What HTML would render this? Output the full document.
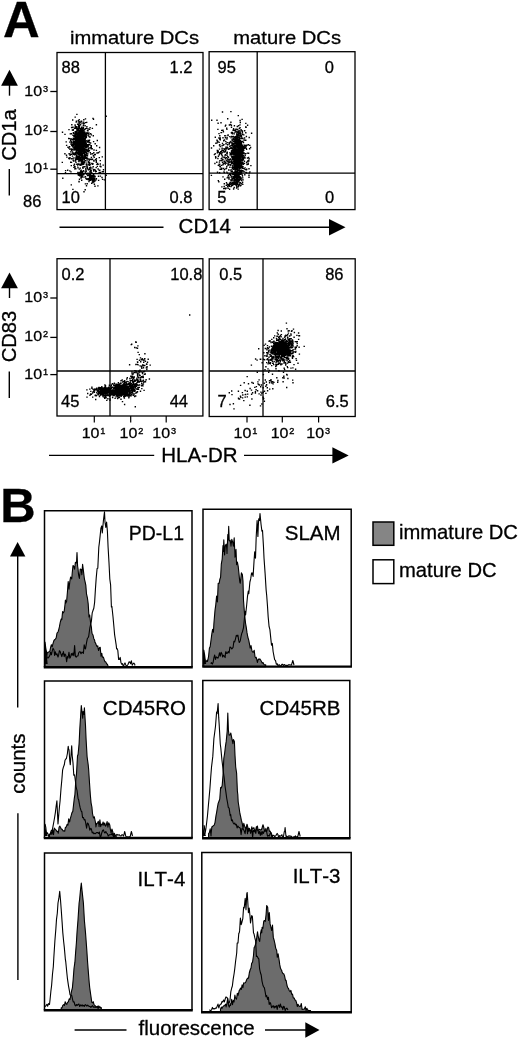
<!DOCTYPE html>
<html><head><meta charset="utf-8"><title>Figure</title>
<style>
html,body{margin:0;padding:0;background:#fff}
svg{display:block}
svg text{font-family:"Liberation Sans",sans-serif;fill:#000;stroke:#000;stroke-width:0.3px;font-kerning:none}
</style></head>
<body>
<svg width="520" height="1039" viewBox="0 0 520 1039">
<rect width="520" height="1039" fill="#fff"/>
<text x="3.0" y="37" font-size="50.8" text-anchor="start" font-weight="bold" >A</text>
<text transform="translate(70,44.3) scale(1.0,0.95)" font-size="20.2" text-anchor="start" >immature DCs</text>
<text transform="translate(233.3,44.3) scale(1.0,0.95)" font-size="20.2" text-anchor="start" >mature DCs</text>
<rect x="57" y="52.5" width="146.00" height="157.10" fill="none" stroke="#000" stroke-width="1.3"/>
<rect x="209.1" y="51.7" width="145.90" height="157.90" fill="none" stroke="#000" stroke-width="1.3"/>
<line x1="105.4" y1="52.5" x2="105.4" y2="209.6" stroke="#000" stroke-width="1.3"/>
<line x1="57" y1="173.6" x2="203.0" y2="173.6" stroke="#000" stroke-width="1.3"/>
<line x1="257.2" y1="51.7" x2="257.2" y2="209.6" stroke="#000" stroke-width="1.3"/>
<line x1="209.1" y1="173.2" x2="355" y2="173.2" stroke="#000" stroke-width="1.3"/>
<polygon points="9.5,69.8 1.1,85.8 17.9,85.8" fill="#000"/>
<line x1="9.5" y1="85" x2="9.5" y2="95.7" stroke="#000" stroke-width="1.4"/>
<text transform="translate(16.3,160.8) rotate(-90)" font-size="20.2">CD1a</text>
<line x1="9.3" y1="169" x2="9.3" y2="195.4" stroke="#000" stroke-width="1.4"/>
<text transform="translate(24.3,95.7) scale(1,0.95)" font-size="16">10<tspan font-size="9.2" dy="-4.11" dx="0.8" stroke-width="0.35">3</tspan></text>
<line x1="50.3" y1="91.5" x2="57" y2="91.5" stroke="#000" stroke-width="1.3"/>
<text transform="translate(24.3,134.6) scale(1,0.95)" font-size="16">10<tspan font-size="9.2" dy="-4.11" dx="0.8" stroke-width="0.35">2</tspan></text>
<line x1="50.3" y1="131.5" x2="57" y2="131.5" stroke="#000" stroke-width="1.3"/>
<text transform="translate(24.3,173) scale(1,0.95)" font-size="16">10<tspan font-size="9.2" dy="-4.11" dx="0.8" stroke-width="0.35">1</tspan></text>
<line x1="50.3" y1="169.2" x2="57" y2="169.2" stroke="#000" stroke-width="1.3"/>
<text transform="translate(23,206.7) scale(1.0,0.95)" font-size="16.5" text-anchor="start" >86</text>
<text transform="translate(61.5,73) scale(1.0,0.95)" font-size="16.5" text-anchor="start" >88</text>
<text transform="translate(192.5,73) scale(1.0,0.95)" font-size="16.5" text-anchor="end" >1.2</text>
<text transform="translate(61.5,202.7) scale(1.0,0.95)" font-size="16.5" text-anchor="start" >10</text>
<text transform="translate(192.5,202.7) scale(1.0,0.95)" font-size="16.5" text-anchor="end" >0.8</text>
<text transform="translate(217.5,73) scale(1.0,0.95)" font-size="16.5" text-anchor="start" >95</text>
<text transform="translate(334,73) scale(1.0,0.95)" font-size="16.5" text-anchor="end" >0</text>
<text transform="translate(217.3,202.7) scale(1.0,0.95)" font-size="16.5" text-anchor="start" >5</text>
<text transform="translate(334.3,202.7) scale(1.0,0.95)" font-size="16.5" text-anchor="end" >0</text>
<line x1="59.5" y1="227.2" x2="163.5" y2="227.2" stroke="#000" stroke-width="1.4"/>
<text x="178.6" y="232.7" font-size="20.5" text-anchor="start" >CD14</text>
<line x1="240" y1="227.2" x2="330" y2="227.2" stroke="#000" stroke-width="1.4"/>
<polygon points="345.5,227.3 329,219.1 329,235.5" fill="#000"/>
<path d="M80.9 137.4h1.4M82.5 142.8h1.4M80.9 121.2h1.4M75.5 126.9h1.4M82.8 151.2h1.4M81.3 146.3h1.4M78.0 143.4h1.4M81.7 134.6h1.4M81.0 147.8h1.4M80.8 157.8h1.4M79.9 132.2h1.4M81.6 143.1h1.4M77.4 138.2h1.4M79.3 145.5h1.4M78.2 142.3h1.4M81.8 141.8h1.4M79.9 135.1h1.4M78.8 142.2h1.4M77.2 136.7h1.4M79.0 141.1h1.4M79.8 142.0h1.4M78.9 147.8h1.4M84.1 138.7h1.4M83.1 140.7h1.4M70.9 149.3h1.4M73.6 139.1h1.4M79.2 140.2h1.4M78.4 149.5h1.4M80.5 145.0h1.4M80.5 143.5h1.4M86.8 146.2h1.4M76.1 131.1h1.4M78.6 146.1h1.4M86.5 155.5h1.4M81.9 148.0h1.4M82.0 130.0h1.4M78.1 144.6h1.4M74.4 133.5h1.4M80.4 140.8h1.4M80.2 143.8h1.4M75.7 131.5h1.4M77.5 153.3h1.4M79.6 142.0h1.4M76.7 148.5h1.4M79.5 147.9h1.4M80.1 154.1h1.4M79.9 152.8h1.4M78.1 129.8h1.4M81.8 143.5h1.4M82.7 125.4h1.4M80.9 139.2h1.4M77.1 148.0h1.4M82.2 151.1h1.4M78.1 153.2h1.4M82.7 140.3h1.4M76.3 144.5h1.4M82.8 144.3h1.4M79.7 153.4h1.4M75.7 155.1h1.4M78.8 139.4h1.4M80.0 174.8h1.4M80.7 142.9h1.4M76.6 138.8h1.4M76.1 146.9h1.4M80.5 149.3h1.4M78.3 147.0h1.4M80.6 137.5h1.4M82.3 155.9h1.4M74.4 141.8h1.4M80.6 156.0h1.4M83.8 155.6h1.4M78.8 131.8h1.4M77.1 133.8h1.4M82.3 135.0h1.4M80.6 145.1h1.4M82.8 144.0h1.4M78.7 144.8h1.4M74.9 134.7h1.4M79.4 146.3h1.4M78.3 154.3h1.4M82.4 132.2h1.4M80.4 141.4h1.4M74.4 143.6h1.4M75.9 140.7h1.4M82.7 141.9h1.4M82.0 158.4h1.4M77.7 153.2h1.4M79.8 150.0h1.4M81.3 136.8h1.4M81.3 162.2h1.4M82.7 146.7h1.4M80.6 138.2h1.4M79.5 139.9h1.4M78.9 138.5h1.4M83.3 161.7h1.4M72.4 142.7h1.4M79.3 143.3h1.4M79.9 124.7h1.4M75.1 147.9h1.4M80.9 134.2h1.4M77.7 132.8h1.4M82.6 148.8h1.4M79.4 135.5h1.4M82.0 150.5h1.4M83.8 153.4h1.4M81.1 128.1h1.4M76.9 141.0h1.4M74.8 128.3h1.4M85.6 143.9h1.4M79.4 150.5h1.4M77.5 130.8h1.4M80.3 158.3h1.4M79.2 140.1h1.4M82.6 133.6h1.4M79.9 141.9h1.4M79.8 149.6h1.4M77.4 130.6h1.4M81.3 143.3h1.4M76.4 130.4h1.4M82.0 153.6h1.4M84.8 145.5h1.4M74.8 138.0h1.4M71.7 149.5h1.4M81.8 132.5h1.4M88.2 141.7h1.4M76.5 157.6h1.4M75.7 140.7h1.4M81.7 154.8h1.4M77.0 143.8h1.4M78.1 136.5h1.4M78.7 140.5h1.4M81.6 143.9h1.4M78.5 139.0h1.4M80.7 136.1h1.4M79.2 136.1h1.4M77.0 129.6h1.4M78.7 143.5h1.4M76.7 145.3h1.4M79.8 149.2h1.4M76.1 126.6h1.4M76.2 148.7h1.4M84.6 143.9h1.4M79.6 130.7h1.4M79.6 143.6h1.4M81.5 150.1h1.4M78.4 146.9h1.4M79.0 148.8h1.4M81.2 151.2h1.4M80.7 150.6h1.4M76.0 141.5h1.4M82.6 125.9h1.4M77.9 135.9h1.4M76.3 144.9h1.4M76.8 138.1h1.4M78.5 148.3h1.4M85.2 151.0h1.4M75.9 142.2h1.4M80.3 158.9h1.4M72.7 132.8h1.4M79.8 150.7h1.4M82.8 139.6h1.4M79.0 136.0h1.4M77.7 147.3h1.4M80.6 137.8h1.4M82.1 150.7h1.4M82.0 133.5h1.4M86.3 144.8h1.4M80.5 135.9h1.4M77.8 140.3h1.4M79.4 139.6h1.4M79.6 133.2h1.4M80.2 148.5h1.4M79.7 132.3h1.4M80.4 134.7h1.4M74.3 149.0h1.4M82.5 151.8h1.4M77.9 148.0h1.4M75.9 144.7h1.4M81.9 162.7h1.4M84.1 133.7h1.4M81.4 137.0h1.4M80.3 134.6h1.4M76.7 149.7h1.4M89.3 147.7h1.4M82.7 153.0h1.4M76.0 150.1h1.4M77.2 140.3h1.4M80.1 136.0h1.4M74.7 133.1h1.4M80.4 161.7h1.4M78.3 150.7h1.4M83.8 148.9h1.4M83.0 140.8h1.4M70.9 138.9h1.4M79.9 140.0h1.4M74.5 138.8h1.4M83.5 123.5h1.4M80.4 142.5h1.4M81.6 140.1h1.4M76.3 144.4h1.4M85.8 146.2h1.4M86.5 151.8h1.4M76.3 141.9h1.4M81.0 149.9h1.4M77.6 120.6h1.4M79.7 133.5h1.4M75.6 156.4h1.4M86.0 134.2h1.4M76.6 139.7h1.4M78.8 148.6h1.4M81.5 135.8h1.4M77.7 148.4h1.4M79.0 130.6h1.4M77.9 126.2h1.4M79.4 131.5h1.4M75.9 127.9h1.4M78.4 142.4h1.4M79.1 140.0h1.4M78.7 145.4h1.4M80.0 134.2h1.4M78.8 164.1h1.4M82.3 142.7h1.4M78.7 142.2h1.4M79.3 146.6h1.4M77.6 140.3h1.4M78.1 137.1h1.4M75.6 142.5h1.4M81.5 151.1h1.4M76.0 147.5h1.4M77.3 150.2h1.4M81.0 138.4h1.4M81.1 136.7h1.4M78.5 159.5h1.4M73.1 139.2h1.4M81.2 147.3h1.4M80.7 149.4h1.4M75.1 153.7h1.4M82.3 132.1h1.4M77.5 138.2h1.4M76.1 138.3h1.4M80.1 140.4h1.4M79.2 122.3h1.4M80.5 142.3h1.4M74.5 117.1h1.4M85.8 147.0h1.4M77.8 146.9h1.4M74.7 146.7h1.4M81.8 133.2h1.4M78.6 150.7h1.4M80.9 135.9h1.4M78.7 132.3h1.4M79.6 134.6h1.4M80.6 136.0h1.4M77.3 143.7h1.4M82.0 150.5h1.4M78.2 124.8h1.4M76.9 137.6h1.4M80.1 150.6h1.4M81.3 145.0h1.4M79.0 147.0h1.4M77.0 129.5h1.4M81.8 151.6h1.4M74.0 128.2h1.4M76.4 143.7h1.4M79.9 154.5h1.4M75.3 157.7h1.4M79.9 147.4h1.4M79.6 150.4h1.4M82.8 138.6h1.4M76.8 138.2h1.4M77.7 152.4h1.4M80.9 143.3h1.4M71.7 139.8h1.4M90.0 133.7h1.4M77.5 143.7h1.4M77.4 147.8h1.4M82.6 137.0h1.4M79.7 138.7h1.4M73.9 154.9h1.4M81.9 145.0h1.4M82.6 141.3h1.4M78.3 133.0h1.4M78.9 137.5h1.4M81.4 141.3h1.4M76.8 153.8h1.4M81.2 138.2h1.4M80.5 158.3h1.4M77.6 134.6h1.4M75.2 138.8h1.4M79.1 149.9h1.4M76.9 140.2h1.4M83.1 136.8h1.4M80.3 142.0h1.4M82.4 147.5h1.4M80.2 128.6h1.4M80.7 141.1h1.4M77.2 141.4h1.4M82.0 140.2h1.4M85.7 150.7h1.4M78.8 137.9h1.4M77.8 139.4h1.4M79.3 143.2h1.4M78.2 148.8h1.4M77.5 140.5h1.4M80.3 155.9h1.4M78.8 135.1h1.4M84.5 155.1h1.4M79.8 135.7h1.4M80.9 141.9h1.4M82.9 146.9h1.4M78.8 160.1h1.4M84.5 151.8h1.4M77.7 139.0h1.4M77.1 153.3h1.4M78.6 140.9h1.4M79.4 136.2h1.4M75.2 145.6h1.4M79.7 143.8h1.4M74.3 149.6h1.4M84.4 139.5h1.4M79.5 146.2h1.4M77.7 147.8h1.4M76.8 144.6h1.4M78.5 142.4h1.4M79.1 136.9h1.4M76.4 149.8h1.4M76.8 143.4h1.4M79.2 147.0h1.4M78.1 139.6h1.4M82.9 143.9h1.4M83.6 135.2h1.4M79.9 143.7h1.4M81.4 149.9h1.4M75.4 142.7h1.4M81.9 150.8h1.4M79.7 145.6h1.4M81.4 154.9h1.4M85.1 142.8h1.4M72.3 127.2h1.4M80.7 146.9h1.4M76.2 140.7h1.4M81.8 135.3h1.4M75.5 147.4h1.4M78.2 144.8h1.4M80.5 146.9h1.4M81.8 140.7h1.4M80.0 144.7h1.4M77.2 144.5h1.4M78.0 157.5h1.4M82.7 138.0h1.4M79.8 142.9h1.4M74.2 144.6h1.4M82.6 129.1h1.4M81.2 129.8h1.4M82.7 162.1h1.4M78.7 127.8h1.4M82.5 148.6h1.4M76.3 134.9h1.4M81.7 137.0h1.4M78.2 125.8h1.4M82.0 136.0h1.4M83.1 150.5h1.4M77.4 130.6h1.4M79.6 148.0h1.4M79.9 145.7h1.4M83.7 161.1h1.4M82.1 139.6h1.4M75.8 152.6h1.4M81.3 150.9h1.4M82.3 141.2h1.4M86.8 130.7h1.4M74.3 154.3h1.4M78.0 131.0h1.4M84.2 140.1h1.4M75.3 149.3h1.4M75.8 151.4h1.4M81.5 136.3h1.4M83.2 143.6h1.4M77.6 140.2h1.4M81.6 153.5h1.4M80.2 164.3h1.4M84.8 128.8h1.4M79.8 150.7h1.4M83.1 119.7h1.4M76.8 142.4h1.4M79.2 133.5h1.4M79.5 159.8h1.4M83.6 145.4h1.4M81.7 137.3h1.4M77.3 138.1h1.4M82.1 138.7h1.4M82.3 145.2h1.4M79.4 141.6h1.4M78.9 148.3h1.4M79.2 155.9h1.4M74.2 147.5h1.4M80.4 132.8h1.4M80.6 129.5h1.4M76.9 135.9h1.4M82.3 152.5h1.4M75.3 139.0h1.4M78.0 136.9h1.4M78.2 143.8h1.4M86.4 132.7h1.4M74.5 132.0h1.4M81.7 147.8h1.4M82.9 141.2h1.4M81.0 139.5h1.4M83.7 146.7h1.4M76.5 137.2h1.4M72.3 135.3h1.4M82.3 139.8h1.4M75.9 147.1h1.4M78.7 143.2h1.4M75.9 131.9h1.4M83.3 141.3h1.4M82.7 149.2h1.4M77.4 158.2h1.4M82.8 134.1h1.4M80.2 146.0h1.4M79.3 140.7h1.4M80.0 150.0h1.4M79.1 146.6h1.4M81.8 156.0h1.4M80.8 147.7h1.4M78.6 138.1h1.4M83.1 139.3h1.4M77.8 145.9h1.4M80.7 146.6h1.4M81.2 163.6h1.4M84.7 158.4h1.4M78.1 132.6h1.4M85.6 147.4h1.4M80.4 131.9h1.4M79.2 128.8h1.4M77.6 148.7h1.4M81.7 148.2h1.4M80.0 134.3h1.4M76.2 156.0h1.4M76.1 133.8h1.4M78.0 132.7h1.4M77.6 147.9h1.4M83.4 145.8h1.4M84.3 142.8h1.4M82.7 143.2h1.4M81.0 145.2h1.4M78.4 141.5h1.4M80.0 141.6h1.4M82.7 127.7h1.4M86.8 133.5h1.4M82.8 148.9h1.4M78.9 136.8h1.4M79.9 147.6h1.4M78.2 153.0h1.4M77.2 139.3h1.4M79.2 145.2h1.4M80.4 160.7h1.4M85.9 150.4h1.4M80.0 158.6h1.4M84.3 157.1h1.4M85.6 150.9h1.4M80.1 142.1h1.4M85.1 137.2h1.4M82.2 134.2h1.4M78.4 146.8h1.4M80.7 147.2h1.4M79.9 141.5h1.4M79.0 150.0h1.4M79.1 137.7h1.4M80.3 152.5h1.4M81.2 143.7h1.4M76.9 141.9h1.4M79.8 143.0h1.4M74.8 140.9h1.4M80.7 164.3h1.4M81.9 129.9h1.4M80.3 144.6h1.4M80.7 153.8h1.4M81.7 149.6h1.4M77.6 139.9h1.4M79.0 157.5h1.4M81.5 134.4h1.4M83.1 132.8h1.4M81.1 148.1h1.4M88.2 132.9h1.4M79.5 122.8h1.4M83.1 151.3h1.4M84.0 150.5h1.4M79.4 149.1h1.4M77.1 138.2h1.4M75.9 143.5h1.4M80.3 135.0h1.4M83.5 158.6h1.4M80.7 149.9h1.4M80.4 149.4h1.4M78.5 126.2h1.4M81.7 150.3h1.4M72.8 153.8h1.4M80.6 153.5h1.4M79.9 149.7h1.4M75.3 141.8h1.4M87.0 142.0h1.4M75.2 146.9h1.4M76.2 145.3h1.4M75.8 144.0h1.4M83.5 141.3h1.4M76.9 156.5h1.4M82.0 133.7h1.4M81.7 143.3h1.4M80.7 138.3h1.4M75.5 150.6h1.4M77.8 154.6h1.4M85.3 154.9h1.4M75.5 148.3h1.4M77.1 130.4h1.4M79.3 160.5h1.4M82.5 148.1h1.4M80.6 142.3h1.4M82.2 143.8h1.4M76.3 139.2h1.4M82.9 147.4h1.4M81.7 146.1h1.4M74.5 138.6h1.4M84.9 122.6h1.4M87.4 144.7h1.4M77.3 146.4h1.4M80.0 147.5h1.4M84.4 142.9h1.4M74.9 145.6h1.4M73.2 150.0h1.4M75.5 137.9h1.4M77.9 154.9h1.4M77.9 126.0h1.4M81.8 132.9h1.4M80.7 135.6h1.4M75.7 121.3h1.4M81.7 135.0h1.4M86.0 155.2h1.4M83.8 154.5h1.4M83.1 144.7h1.4M79.9 157.6h1.4M83.0 145.9h1.4M76.6 138.0h1.4M82.3 145.7h1.4M79.5 141.8h1.4M83.5 150.2h1.4M81.3 130.7h1.4M76.2 150.5h1.4M80.2 139.2h1.4M83.8 151.3h1.4M76.1 129.0h1.4M78.0 139.0h1.4M77.3 143.0h1.4M74.9 149.4h1.4M83.0 133.5h1.4M84.1 158.2h1.4M82.4 147.8h1.4M80.6 138.8h1.4M79.6 153.3h1.4M80.6 144.1h1.4M77.4 152.2h1.4M82.7 163.4h1.4M83.3 150.4h1.4M82.9 139.3h1.4M78.0 138.9h1.4M80.1 148.0h1.4M79.3 145.3h1.4M85.7 137.5h1.4M80.4 137.5h1.4M73.6 147.0h1.4M81.1 163.2h1.4M86.0 122.4h1.4M82.1 149.7h1.4M82.7 142.0h1.4M79.9 149.6h1.4M73.3 148.7h1.4M73.8 141.9h1.4M75.7 133.3h1.4M79.4 131.1h1.4M80.8 127.4h1.4M82.1 153.9h1.4M78.7 140.9h1.4M83.0 139.2h1.4M78.9 140.4h1.4M77.5 131.1h1.4M82.6 146.3h1.4M76.8 153.4h1.4M70.8 150.3h1.4M76.3 128.9h1.4M80.1 154.6h1.4M69.6 133.9h1.4M78.6 126.5h1.4M78.7 132.3h1.4M75.1 133.6h1.4M74.9 141.7h1.4M78.3 133.9h1.4M78.0 129.8h1.4M84.0 141.8h1.4M81.0 159.6h1.4M74.6 135.7h1.4M77.0 146.2h1.4M82.1 144.3h1.4M86.1 167.1h1.4M81.1 127.3h1.4M80.8 152.5h1.4M85.9 133.7h1.4M79.7 138.0h1.4M78.8 141.9h1.4M75.1 168.7h1.4M78.1 136.1h1.4M87.0 128.9h1.4M75.1 152.8h1.4M79.8 135.9h1.4M75.2 139.7h1.4M80.2 142.9h1.4M82.7 144.6h1.4M79.0 141.4h1.4M82.2 145.9h1.4M82.2 146.9h1.4M81.3 150.6h1.4M85.5 140.8h1.4M82.4 137.3h1.4M78.8 133.7h1.4M77.6 147.4h1.4M77.0 141.9h1.4M81.4 148.1h1.4M78.7 147.3h1.4M88.8 159.6h1.4M85.9 146.3h1.4M79.1 149.2h1.4M78.7 132.5h1.4M85.4 135.3h1.4M73.6 138.8h1.4M78.3 132.3h1.4M82.9 149.6h1.4M76.8 131.0h1.4M78.2 143.2h1.4M78.6 121.9h1.4M82.0 134.2h1.4M80.3 140.2h1.4M81.1 141.2h1.4M81.8 128.4h1.4M79.9 143.9h1.4M83.5 152.2h1.4M77.4 147.9h1.4M75.1 136.2h1.4M73.9 136.5h1.4M74.5 131.6h1.4M78.0 147.9h1.4M83.2 156.1h1.4M80.4 138.7h1.4M77.8 128.1h1.4M76.3 143.8h1.4M78.1 148.5h1.4M78.5 119.6h1.4M77.9 143.7h1.4M75.1 160.1h1.4M78.2 149.5h1.4M83.2 148.5h1.4M72.6 144.6h1.4M79.0 151.8h1.4M72.8 133.2h1.4M80.4 136.0h1.4M77.3 145.8h1.4M72.9 135.4h1.4M80.1 145.3h1.4M85.8 128.4h1.4M80.2 149.5h1.4M83.6 151.2h1.4M79.6 143.3h1.4M72.7 142.6h1.4M81.4 157.1h1.4M78.4 133.5h1.4M75.0 134.0h1.4M82.4 134.4h1.4M80.7 139.7h1.4M78.1 134.0h1.4M82.7 144.1h1.4M76.9 136.8h1.4M81.9 131.3h1.4M76.7 129.1h1.4M81.6 153.7h1.4M76.2 141.5h1.4M84.7 142.3h1.4M80.6 143.4h1.4M84.5 143.5h1.4M77.1 148.7h1.4M78.2 147.4h1.4M82.6 138.7h1.4M70.7 133.7h1.4M76.3 132.9h1.4M83.2 133.3h1.4M81.3 155.3h1.4M83.0 136.1h1.4M78.8 125.7h1.4M81.7 136.3h1.4M77.4 135.7h1.4M75.3 144.6h1.4M74.2 134.1h1.4M78.0 147.1h1.4M78.0 145.8h1.4M77.7 153.2h1.4M68.1 158.3h1.4M73.2 165.4h1.4M78.0 154.0h1.4M80.7 133.4h1.4M77.9 139.1h1.4M76.9 144.3h1.4M72.2 158.5h1.4M86.5 150.4h1.4M76.2 152.2h1.4M85.4 143.0h1.4M85.0 149.3h1.4M80.7 149.3h1.4M77.9 138.7h1.4M80.2 149.7h1.4M76.0 151.1h1.4M80.7 141.9h1.4M79.8 151.6h1.4M81.6 157.4h1.4M82.9 144.4h1.4M85.5 144.5h1.4M78.5 140.1h1.4M83.2 138.6h1.4M77.2 143.6h1.4M76.8 138.8h1.4M77.8 139.8h1.4M76.6 135.6h1.4M83.0 130.8h1.4M82.8 135.9h1.4M84.0 146.9h1.4M79.7 133.0h1.4M80.7 137.8h1.4M77.9 156.4h1.4M76.0 151.5h1.4M81.3 137.5h1.4M80.7 148.3h1.4M76.1 136.6h1.4M81.7 157.3h1.4M74.1 136.6h1.4M79.2 143.5h1.4M77.7 154.2h1.4M78.1 135.5h1.4M76.2 153.1h1.4M82.9 136.9h1.4M81.7 145.5h1.4M83.7 141.5h1.4M80.2 142.4h1.4M75.5 143.3h1.4M78.5 142.0h1.4M75.9 133.4h1.4M81.3 150.7h1.4M83.8 150.1h1.4M80.8 154.2h1.4M77.8 154.2h1.4M78.5 131.3h1.4M80.4 154.0h1.4M75.0 152.7h1.4M80.2 138.6h1.4M80.4 151.9h1.4M78.0 154.9h1.4M78.4 138.1h1.4M80.3 131.5h1.4M77.0 139.2h1.4M77.0 165.9h1.4M82.3 145.6h1.4M80.5 132.9h1.4M85.3 142.3h1.4M76.5 133.7h1.4M73.9 138.1h1.4M82.8 144.6h1.4M82.9 122.1h1.4M77.3 145.4h1.4M74.9 153.7h1.4M79.6 141.3h1.4M73.9 138.3h1.4M78.6 151.9h1.4M72.5 130.4h1.4M78.9 132.2h1.4M72.7 129.4h1.4M78.9 141.4h1.4M84.7 147.6h1.4M78.8 142.0h1.4M82.2 148.3h1.4M77.6 149.5h1.4M76.7 146.4h1.4M74.7 134.9h1.4M83.1 141.6h1.4M79.5 153.5h1.4M85.0 135.5h1.4M75.8 139.8h1.4M78.9 139.2h1.4M79.9 141.5h1.4M84.3 135.1h1.4M85.7 133.1h1.4M77.5 164.0h1.4M75.9 150.0h1.4M73.9 135.5h1.4M84.1 143.6h1.4M79.4 148.6h1.4M78.4 147.2h1.4M84.2 132.2h1.4M76.8 159.2h1.4M78.3 161.6h1.4M80.0 130.8h1.4M77.8 152.1h1.4M65.8 155.3h1.4M80.6 156.4h1.4M82.1 135.5h1.4M83.4 131.1h1.4M74.5 142.7h1.4M82.6 141.4h1.4M81.8 146.8h1.4M69.9 140.9h1.4M67.3 147.3h1.4M83.4 140.9h1.4M74.8 142.2h1.4M86.5 183.7h1.4M93.3 150.0h1.4M77.0 153.6h1.4M76.4 148.1h1.4M80.4 148.9h1.4M84.5 137.2h1.4M73.7 149.8h1.4M88.0 148.7h1.4M86.4 158.3h1.4M84.5 172.0h1.4M77.3 147.2h1.4M86.0 157.4h1.4M85.6 136.3h1.4M73.3 144.8h1.4M93.0 169.5h1.4M78.7 144.9h1.4M82.7 139.7h1.4M77.4 147.4h1.4M82.8 145.0h1.4M87.5 146.2h1.4M75.7 139.9h1.4M70.6 165.6h1.4M77.8 134.9h1.4M72.7 138.3h1.4M75.9 137.7h1.4M79.7 160.5h1.4M80.1 142.8h1.4M88.2 164.7h1.4M74.4 145.8h1.4M82.6 146.8h1.4M77.5 127.9h1.4M88.7 163.8h1.4M95.7 158.7h1.4M82.3 151.7h1.4M90.5 148.9h1.4M77.3 140.1h1.4M70.9 127.5h1.4M72.9 154.3h1.4M71.0 145.6h1.4M74.8 139.7h1.4M79.1 138.3h1.4M87.4 150.4h1.4M84.7 146.9h1.4M83.3 166.7h1.4M78.0 154.3h1.4M76.2 137.5h1.4M80.7 133.3h1.4M81.3 143.8h1.4M82.0 136.2h1.4M82.7 148.0h1.4M79.8 150.7h1.4M69.0 149.1h1.4M73.8 148.5h1.4M75.5 142.1h1.4M90.7 157.4h1.4M77.9 134.8h1.4M84.6 147.0h1.4M89.3 159.4h1.4M82.5 150.5h1.4M78.1 130.4h1.4M78.7 132.0h1.4M74.4 124.9h1.4M82.3 168.3h1.4M87.3 130.8h1.4M83.9 146.1h1.4M85.1 169.8h1.4M84.8 160.8h1.4M92.5 166.7h1.4M76.7 139.0h1.4M81.4 155.4h1.4M84.7 183.9h1.4M88.0 149.0h1.4M65.9 145.4h1.4M77.4 141.4h1.4M79.2 145.7h1.4M74.3 148.3h1.4M85.6 164.7h1.4M81.8 136.3h1.4M78.1 128.7h1.4M70.7 142.8h1.4M72.6 145.7h1.4M74.6 160.7h1.4M83.2 156.0h1.4M73.2 136.2h1.4M68.1 148.1h1.4M71.8 156.1h1.4M76.9 148.4h1.4M90.5 146.5h1.4M95.5 160.4h1.4M77.6 141.1h1.4M86.2 126.7h1.4M88.9 165.4h1.4M88.2 134.3h1.4M79.8 142.2h1.4M72.7 139.6h1.4M77.6 141.3h1.4M69.3 138.6h1.4M81.9 130.0h1.4M85.2 154.4h1.4M69.1 142.1h1.4M80.2 146.7h1.4M82.3 159.7h1.4M88.0 162.3h1.4M88.8 165.4h1.4M85.3 170.0h1.4M76.4 150.0h1.4M78.3 127.4h1.4M87.7 151.7h1.4M76.9 145.0h1.4M80.2 147.0h1.4M89.9 143.0h1.4M81.3 136.2h1.4M72.3 152.4h1.4M78.7 157.0h1.4M84.3 134.7h1.4M79.4 152.2h1.4M87.5 147.1h1.4M88.2 144.8h1.4M76.6 152.8h1.4M77.5 144.5h1.4M79.9 139.6h1.4M73.3 144.1h1.4M82.8 123.7h1.4M79.4 138.9h1.4M85.2 143.0h1.4M76.9 128.4h1.4M75.2 146.2h1.4M91.5 153.8h1.4M75.2 137.0h1.4M77.0 142.8h1.4M76.1 152.4h1.4M78.7 157.9h1.4M75.0 135.0h1.4M80.2 150.0h1.4M76.3 156.7h1.4M78.0 144.8h1.4M82.7 137.9h1.4M84.7 138.8h1.4M83.3 143.4h1.4M76.1 132.2h1.4M82.9 170.7h1.4M79.8 139.1h1.4M79.9 150.3h1.4M70.2 144.1h1.4M84.5 155.1h1.4M79.7 141.2h1.4M90.7 134.9h1.4M84.3 166.8h1.4M73.8 142.4h1.4M72.3 144.1h1.4M87.4 151.1h1.4M75.3 158.7h1.4M84.6 156.7h1.4M78.7 159.1h1.4M93.1 160.7h1.4M81.0 148.0h1.4M89.6 152.6h1.4M88.5 140.5h1.4M77.7 122.1h1.4M78.5 142.4h1.4M89.4 137.0h1.4M80.5 176.5h1.4M75.3 162.3h1.4M87.8 162.7h1.4M96.0 145.7h1.4M80.4 170.2h1.4M89.0 129.4h1.4M79.7 131.5h1.4M88.8 140.2h1.4M79.2 134.2h1.4M88.7 150.8h1.4M84.0 149.7h1.4M79.6 168.1h1.4M82.2 158.4h1.4M77.5 159.2h1.4M74.0 148.3h1.4M74.4 141.9h1.4M80.4 137.9h1.4M74.5 125.9h1.4M83.5 137.0h1.4M84.0 143.0h1.4M83.7 156.3h1.4M77.9 125.1h1.4M81.2 130.2h1.4M80.7 148.7h1.4M88.8 137.0h1.4M76.0 148.2h1.4M78.6 140.4h1.4M79.5 136.8h1.4M80.0 130.2h1.4M76.4 143.3h1.4M77.1 136.1h1.4M87.0 141.4h1.4M77.1 137.2h1.4M86.4 150.6h1.4M93.1 152.8h1.4M88.6 129.1h1.4M70.1 139.9h1.4M85.6 152.7h1.4M83.8 159.5h1.4M84.2 156.7h1.4M71.2 144.7h1.4M85.5 134.6h1.4M74.4 134.5h1.4M88.7 160.0h1.4M87.3 140.5h1.4M96.2 164.4h1.4M78.6 160.2h1.4M71.7 130.0h1.4M87.2 153.9h1.4M86.1 146.9h1.4M78.6 169.1h1.4M89.0 159.3h1.4M85.0 141.8h1.4M73.1 147.8h1.4M78.8 134.5h1.4M78.2 143.3h1.4M80.2 148.3h1.4M82.0 148.4h1.4M76.7 148.1h1.4M79.7 135.0h1.4M84.4 125.8h1.4M80.4 141.7h1.4M79.2 135.0h1.4M79.0 137.2h1.4M80.3 171.0h1.4M69.4 155.2h1.4M81.8 144.5h1.4M74.7 126.8h1.4M81.5 131.1h1.4M72.0 146.9h1.4M86.4 160.9h1.4M82.3 143.3h1.4M72.8 144.5h1.4M82.3 149.7h1.4M76.3 156.9h1.4M91.7 128.4h1.4M83.8 149.2h1.4M76.1 149.0h1.4M82.2 157.9h1.4M80.7 150.7h1.4M88.1 136.1h1.4M83.0 140.2h1.4M84.0 129.5h1.4M74.2 145.7h1.4M85.6 150.3h1.4M93.5 157.2h1.4M84.7 136.3h1.4M80.7 132.7h1.4M81.9 164.5h1.4M75.2 146.0h1.4M82.0 167.1h1.4M74.3 148.7h1.4M81.2 129.1h1.4M78.6 154.7h1.4M75.9 158.7h1.4M84.4 142.3h1.4M72.0 120.0h1.4M80.7 153.9h1.4M73.0 141.3h1.4M91.9 153.8h1.4M92.8 119.3h1.4M86.0 153.6h1.4M92.3 118.4h1.4M84.5 137.4h1.4M84.2 157.9h1.4M78.4 123.7h1.4M75.5 122.1h1.4M81.7 141.2h1.4M77.7 164.2h1.4M78.3 164.1h1.4M85.3 140.8h1.4M80.1 157.6h1.4M71.5 149.2h1.4M79.6 148.7h1.4M76.3 148.5h1.4M79.1 136.9h1.4M74.3 152.9h1.4M88.1 161.5h1.4M92.3 182.5h1.4M74.2 154.2h1.4M84.8 118.9h1.4M84.5 133.4h1.4M74.4 147.5h1.4M81.5 147.2h1.4M89.4 127.6h1.4M86.0 146.5h1.4M90.6 145.8h1.4M73.9 142.7h1.4M76.4 142.9h1.4M82.6 157.6h1.4M83.0 164.2h1.4M81.0 154.2h1.4M78.5 132.1h1.4M78.4 134.9h1.4M77.2 136.8h1.4M83.5 146.5h1.4M64.3 134.4h1.4M90.4 145.8h1.4M77.6 134.0h1.4M72.2 153.8h1.4M84.1 157.4h1.4M72.4 153.9h1.4M83.1 146.1h1.4M78.4 150.5h1.4M84.3 136.8h1.4M85.5 136.1h1.4M88.5 142.8h1.4M77.8 151.8h1.4M79.0 143.6h1.4M80.7 132.6h1.4M72.3 143.8h1.4M84.3 152.5h1.4M91.2 168.1h1.4M85.0 155.9h1.4M90.5 170.3h1.4M86.8 155.7h1.4M87.5 151.0h1.4M89.3 171.8h1.4M95.6 162.3h1.4M103.7 179.9h1.4M101.7 171.7h1.4M94.7 159.6h1.4M87.0 168.8h1.4M87.7 179.6h1.4M88.0 164.9h1.4M98.6 157.6h1.4M69.3 157.7h1.4M91.9 159.2h1.4M75.1 153.3h1.4M90.0 154.1h1.4M99.9 172.5h1.4M83.2 177.1h1.4M72.9 161.1h1.4M99.7 176.1h1.4M101.3 177.5h1.4M93.7 184.3h1.4M99.4 166.4h1.4M84.0 162.7h1.4M98.8 172.4h1.4M102.8 169.7h1.4M94.8 170.6h1.4M92.1 180.2h1.4M99.6 164.0h1.4M98.5 170.3h1.4M84.4 156.5h1.4M100.2 166.8h1.4M95.6 161.0h1.4M91.2 159.6h1.4M99.8 166.1h1.4M96.9 163.5h1.4M95.6 171.4h1.4M86.2 174.5h1.4M96.3 153.0h1.4M81.7 175.9h1.4M89.1 144.7h1.4M77.3 167.8h1.4M77.2 172.4h1.4M93.3 161.0h1.4M89.4 164.6h1.4M90.6 159.3h1.4M94.4 176.5h1.4M92.6 135.8h1.4M83.4 156.5h1.4M90.6 147.8h1.4M89.5 168.8h1.4M86.1 179.4h1.4M89.1 178.7h1.4M87.3 173.3h1.4M85.1 168.8h1.4M87.5 159.0h1.4M91.8 179.4h1.4M105.5 175.3h1.4M83.9 157.8h1.4M93.9 154.8h1.4M79.0 159.3h1.4M101.9 179.4h1.4M87.5 179.1h1.4M91.0 183.2h1.4M99.6 160.6h1.4M97.4 164.4h1.4M78.8 179.3h1.4M94.2 169.7h1.4M88.3 174.4h1.4M94.6 154.5h1.4M91.1 163.5h1.4M95.5 167.6h1.4M92.2 163.8h1.4M89.0 162.7h1.4M98.8 151.9h1.4M78.4 181.7h1.4M86.8 168.0h1.4M82.8 151.6h1.4M88.9 177.6h1.4M86.8 167.3h1.4M88.9 174.1h1.4M86.3 164.7h1.4M86.5 158.8h1.4M77.7 157.9h1.4M89.7 170.5h1.4M92.3 175.2h1.4M85.5 171.4h1.4M85.1 172.9h1.4M85.2 178.5h1.4M102.6 171.7h1.4M91.4 177.4h1.4M92.9 178.6h1.4M87.7 169.8h1.4M86.3 166.0h1.4M83.4 162.1h1.4M101.6 156.9h1.4M77.2 150.1h1.4M92.2 180.7h1.4M89.8 167.2h1.4M88.1 161.6h1.4M78.3 181.5h1.4M80.7 175.8h1.4M97.4 169.0h1.4M84.8 176.7h1.4M96.6 166.4h1.4M95.0 171.7h1.4M94.3 186.2h1.4M95.7 178.8h1.4M80.9 163.6h1.4M86.4 173.9h1.4M95.1 180.0h1.4M80.5 165.1h1.4M102.5 165.1h1.4M85.8 185.7h1.4M89.5 164.6h1.4M82.3 153.5h1.4M92.7 169.5h1.4M84.5 189.8h1.4M88.2 173.8h1.4M81.5 176.2h1.4M98.9 147.5h1.4M77.8 160.9h1.4M93.4 180.5h1.4M91.8 164.3h1.4M93.3 181.7h1.4M82.3 171.9h1.4M97.8 173.2h1.4M97.2 185.9h1.4M91.2 163.4h1.4M92.3 163.9h1.4M88.8 169.2h1.4M94.8 171.1h1.4M83.8 150.6h1.4M94.2 181.1h1.4M93.0 171.0h1.4M79.4 165.3h1.4M70.3 171.9h1.4M89.1 164.3h1.4M88.8 180.2h1.4M99.1 170.2h1.4M90.4 175.6h1.4M86.3 159.0h1.4M79.8 164.2h1.4M89.3 172.0h1.4M85.6 158.3h1.4M81.7 160.7h1.4M89.1 167.7h1.4M97.9 180.4h1.4M75.5 133.6h1.4M76.2 114.4h1.4M73.2 167.4h1.4M76.2 156.6h1.4M79.3 121.4h1.4M72.5 160.2h1.4M73.8 164.3h1.4M74.6 140.4h1.4M61.6 162.4h1.4M71.1 124.8h1.4M73.7 147.3h1.4M75.4 151.1h1.4M70.0 162.2h1.4M76.5 156.5h1.4M68.4 153.8h1.4M70.7 158.8h1.4M80.0 140.7h1.4M64.8 172.6h1.4M71.2 145.4h1.4M70.8 162.4h1.4M71.1 150.4h1.4M68.9 146.7h1.4M74.8 159.2h1.4M66.2 157.1h1.4M64.9 170.6h1.4M73.9 166.5h1.4M65.5 141.9h1.4M73.3 157.9h1.4M71.6 151.9h1.4M68.0 138.5h1.4M69.7 133.9h1.4M70.9 154.2h1.4M73.7 142.4h1.4M68.3 129.6h1.4M70.4 149.0h1.4M64.2 153.7h1.4M70.0 151.9h1.4M61.8 132.3h1.4M71.1 141.7h1.4M69.1 170.9h1.4M81.8 138.8h1.4M77.7 145.4h1.4M70.6 184.9h1.4M76.0 155.5h1.4M72.7 142.8h1.4M77.5 174.7h1.4M80.9 174.7h1.4M78.3 173.8h1.4M80.4 174.8h1.4M79.1 175.1h1.4M77.9 172.9h1.4M82.9 174.7h1.4M80.3 177.8h1.4M81.8 171.9h1.4M81.5 173.4h1.4M79.3 172.5h1.4M80.5 178.0h1.4M79.9 171.2h1.4M81.9 174.0h1.4M81.1 175.9h1.4M79.9 172.3h1.4M82.9 173.7h1.4M81.2 172.6h1.4M81.1 171.3h1.4M79.2 173.9h1.4M81.0 175.0h1.4M78.2 173.2h1.4M81.1 174.3h1.4M79.0 175.4h1.4M80.7 176.4h1.4M80.0 171.5h1.4M80.7 175.2h1.4M80.9 172.8h1.4M80.3 170.2h1.4M80.3 172.4h1.4M78.2 175.3h1.4M77.6 174.6h1.4M82.3 171.8h1.4M81.3 177.2h1.4M78.2 174.8h1.4M83.3 173.9h1.4M79.3 172.9h1.4M81.2 174.8h1.4M81.0 173.2h1.4M80.6 176.3h1.4M81.3 174.6h1.4M78.3 175.2h1.4M80.3 173.4h1.4M80.0 171.1h1.4M80.5 175.1h1.4M80.0 172.0h1.4M79.4 173.8h1.4M79.3 174.0h1.4M81.7 172.4h1.4M79.1 175.8h1.4M88.2 175.6h1.4M94.0 178.1h1.4M89.8 179.5h1.4M92.9 179.0h1.4M93.6 179.3h1.4M89.3 172.9h1.4M89.5 178.8h1.4M92.9 178.6h1.4M91.4 179.2h1.4M91.2 176.2h1.4M87.4 178.8h1.4M87.7 179.9h1.4M92.1 181.2h1.4M93.9 178.3h1.4M89.6 174.8h1.4M89.3 177.8h1.4M91.4 179.1h1.4M91.9 178.8h1.4M92.1 181.9h1.4M90.1 177.3h1.4M87.1 175.5h1.4M93.9 176.3h1.4M90.0 179.1h1.4M93.5 176.0h1.4M87.0 175.5h1.4M91.7 175.9h1.4M90.0 180.3h1.4M88.8 178.2h1.4M92.9 177.0h1.4M93.6 179.6h1.4M89.8 179.2h1.4M92.3 175.6h1.4M88.9 179.5h1.4M89.8 178.3h1.4M90.5 173.2h1.4M90.3 175.1h1.4M92.3 178.3h1.4M88.6 178.8h1.4M92.9 177.1h1.4M92.9 175.6h1.4M90.6 178.3h1.4M88.6 173.8h1.4M86.3 178.9h1.4M90.9 177.4h1.4M89.6 177.7h1.4M91.2 176.3h1.4M88.9 179.5h1.4M91.0 172.7h1.4M90.9 175.8h1.4M91.0 179.0h1.4M91.6 176.2h1.4M91.6 180.9h1.4M92.9 178.7h1.4M89.4 176.1h1.4M92.4 180.2h1.4M91.3 177.6h1.4M90.2 179.0h1.4M89.0 176.4h1.4M93.9 176.5h1.4M91.5 179.3h1.4M90.0 178.0h1.4M91.1 176.1h1.4M91.0 175.9h1.4M90.0 179.2h1.4M88.3 181.6h1.4M91.3 176.0h1.4M90.7 179.3h1.4M90.4 171.5h1.4M93.0 174.8h1.4M88.4 179.3h1.4M97.7 152.7h1.4M81.2 123.0h1.4M86.4 149.2h1.4M83.3 191.7h1.4M91.5 148.8h1.4M68.7 158.9h1.4M87.4 135.6h1.4M75.8 159.4h1.4M76.9 124.2h1.4M80.5 154.1h1.4M78.3 148.4h1.4M72.2 189.4h1.4M77.8 149.0h1.4M70.3 144.1h1.4M96.6 140.5h1.4M88.2 129.1h1.4M76.1 164.2h1.4M97.8 176.3h1.4M94.5 143.7h1.4M85.9 163.1h1.4M74.8 144.0h1.4M83.4 157.5h1.4M86.8 158.5h1.4M95.7 124.7h1.4M78.6 136.5h1.4M74.4 167.0h1.4M105.5 116.2h1.4M95.7 150.4h1.4M84.0 144.1h1.4M70.6 133.6h1.4M85.9 151.1h1.4M92.7 155.7h1.4M88.8 159.9h1.4M81.0 180.3h1.4M92.9 141.6h1.4M74.0 168.9h1.4M75.8 148.0h1.4M75.1 139.7h1.4M73.6 149.0h1.4M62.1 178.3h1.4M83.1 143.9h1.4M69.8 154.2h1.4M67.0 170.3h1.4" stroke="#000" stroke-width="1.4" fill="none"/>
<path d="M239.2 152.4h1.4M237.6 148.6h1.4M236.7 165.3h1.4M233.9 145.8h1.4M239.7 163.7h1.4M240.8 149.5h1.4M244.4 167.9h1.4M235.6 151.3h1.4M239.4 162.4h1.4M237.2 165.2h1.4M241.3 171.6h1.4M237.0 143.8h1.4M235.2 148.6h1.4M231.9 136.7h1.4M239.6 133.2h1.4M237.8 147.3h1.4M240.9 154.8h1.4M235.6 167.4h1.4M245.6 148.2h1.4M235.0 175.0h1.4M239.0 155.1h1.4M238.6 163.1h1.4M240.8 150.0h1.4M236.8 138.5h1.4M234.4 171.2h1.4M234.2 149.6h1.4M239.9 165.8h1.4M237.6 148.7h1.4M238.4 159.7h1.4M234.7 151.1h1.4M237.8 149.0h1.4M238.0 151.2h1.4M239.3 160.8h1.4M232.6 139.1h1.4M234.8 141.7h1.4M242.8 164.2h1.4M236.0 144.5h1.4M237.0 155.0h1.4M236.0 137.4h1.4M232.5 150.4h1.4M233.9 165.5h1.4M238.5 153.9h1.4M235.1 155.3h1.4M243.8 148.4h1.4M232.5 154.0h1.4M231.1 132.4h1.4M236.0 134.0h1.4M233.4 157.5h1.4M241.7 132.5h1.4M235.9 167.8h1.4M239.0 162.6h1.4M232.8 139.0h1.4M239.4 127.7h1.4M239.3 124.9h1.4M241.2 156.3h1.4M238.0 151.7h1.4M238.9 168.3h1.4M237.8 158.2h1.4M240.2 170.7h1.4M236.0 162.8h1.4M239.0 141.9h1.4M235.5 150.6h1.4M239.5 143.0h1.4M236.4 149.1h1.4M235.2 146.8h1.4M235.1 150.0h1.4M242.0 168.3h1.4M232.3 146.3h1.4M232.5 138.9h1.4M239.3 145.4h1.4M234.1 147.2h1.4M235.8 146.0h1.4M235.7 150.7h1.4M244.6 147.7h1.4M235.1 165.5h1.4M235.0 163.2h1.4M236.0 143.9h1.4M238.0 164.1h1.4M238.9 168.9h1.4M232.6 152.8h1.4M238.7 143.1h1.4M243.5 157.8h1.4M231.6 151.9h1.4M239.1 156.7h1.4M239.7 140.6h1.4M237.8 177.0h1.4M236.7 150.6h1.4M229.7 159.0h1.4M241.1 146.0h1.4M236.2 154.7h1.4M236.6 126.5h1.4M241.2 138.0h1.4M229.8 124.5h1.4M237.1 164.3h1.4M239.2 137.0h1.4M239.6 135.1h1.4M239.2 166.0h1.4M243.8 147.4h1.4M238.2 151.1h1.4M240.5 165.4h1.4M239.8 158.7h1.4M232.5 156.7h1.4M234.8 160.6h1.4M244.0 130.7h1.4M236.4 168.0h1.4M237.1 168.4h1.4M233.1 174.4h1.4M236.2 129.1h1.4M233.1 143.4h1.4M235.3 146.7h1.4M239.1 172.8h1.4M234.6 159.7h1.4M235.3 173.6h1.4M241.6 158.4h1.4M238.8 145.9h1.4M238.9 138.3h1.4M240.5 146.7h1.4M235.5 169.4h1.4M236.0 143.5h1.4M230.7 132.8h1.4M239.6 156.5h1.4M236.6 169.1h1.4M237.3 181.3h1.4M233.8 167.7h1.4M239.3 164.5h1.4M239.3 132.8h1.4M237.9 149.0h1.4M232.2 149.0h1.4M234.6 154.9h1.4M237.2 142.6h1.4M234.6 162.4h1.4M238.5 167.7h1.4M240.5 154.5h1.4M234.9 149.9h1.4M236.7 155.4h1.4M235.1 157.6h1.4M240.6 162.4h1.4M240.2 143.3h1.4M245.8 169.9h1.4M237.3 153.6h1.4M234.3 151.2h1.4M238.6 161.2h1.4M236.6 145.1h1.4M237.9 163.3h1.4M241.3 177.9h1.4M236.4 158.2h1.4M239.6 155.5h1.4M230.5 147.7h1.4M240.7 170.4h1.4M237.7 166.2h1.4M236.5 135.7h1.4M235.7 164.3h1.4M241.8 145.4h1.4M235.7 139.5h1.4M241.4 152.2h1.4M235.7 145.4h1.4M237.5 166.4h1.4M238.5 138.5h1.4M243.8 138.1h1.4M238.1 142.1h1.4M238.1 151.4h1.4M237.1 159.8h1.4M236.4 140.4h1.4M235.4 144.6h1.4M243.1 134.9h1.4M242.0 150.7h1.4M235.1 141.2h1.4M237.9 177.9h1.4M233.6 175.1h1.4M240.4 142.2h1.4M239.5 154.5h1.4M237.7 157.7h1.4M234.8 146.6h1.4M239.8 148.4h1.4M239.3 160.3h1.4M236.8 149.8h1.4M239.7 149.4h1.4M233.0 152.5h1.4M235.4 167.1h1.4M234.3 149.9h1.4M237.7 157.3h1.4M242.7 155.6h1.4M237.5 161.1h1.4M241.0 150.6h1.4M237.2 147.2h1.4M236.0 145.0h1.4M240.6 155.6h1.4M239.1 154.5h1.4M241.9 149.9h1.4M240.5 155.4h1.4M234.7 180.1h1.4M229.2 162.0h1.4M237.8 131.8h1.4M233.6 167.9h1.4M232.8 154.6h1.4M232.6 141.2h1.4M235.3 168.4h1.4M236.7 152.0h1.4M237.3 164.6h1.4M243.9 145.8h1.4M233.4 165.1h1.4M237.3 149.7h1.4M233.3 163.9h1.4M234.1 162.3h1.4M237.5 139.7h1.4M238.7 157.1h1.4M233.2 158.3h1.4M241.0 152.2h1.4M234.3 132.4h1.4M240.4 156.1h1.4M237.1 149.2h1.4M240.2 166.7h1.4M239.1 140.7h1.4M236.4 164.2h1.4M238.8 154.5h1.4M233.0 182.1h1.4M233.2 141.3h1.4M236.2 163.9h1.4M241.7 146.7h1.4M234.9 142.0h1.4M235.4 165.3h1.4M242.6 159.8h1.4M237.4 165.0h1.4M237.3 134.4h1.4M233.9 139.1h1.4M237.5 159.7h1.4M239.2 143.2h1.4M237.1 168.1h1.4M239.8 172.1h1.4M238.4 151.5h1.4M240.7 153.3h1.4M240.0 153.3h1.4M236.9 149.6h1.4M240.1 152.6h1.4M243.1 150.3h1.4M238.3 157.9h1.4M233.4 149.2h1.4M237.9 147.0h1.4M236.7 149.5h1.4M245.6 146.0h1.4M239.7 152.1h1.4M233.8 159.2h1.4M236.7 176.6h1.4M242.0 134.3h1.4M233.6 137.2h1.4M235.7 152.2h1.4M237.3 153.4h1.4M236.8 152.5h1.4M235.4 174.5h1.4M237.7 132.0h1.4M232.8 151.2h1.4M235.4 138.4h1.4M235.4 149.5h1.4M236.3 158.9h1.4M236.3 136.4h1.4M237.3 164.8h1.4M236.1 143.3h1.4M235.9 140.9h1.4M238.4 134.1h1.4M240.1 145.0h1.4M240.3 144.5h1.4M233.6 162.5h1.4M238.0 135.0h1.4M239.6 155.5h1.4M236.4 162.7h1.4M238.7 150.1h1.4M236.5 161.8h1.4M238.4 145.0h1.4M232.4 157.8h1.4M238.7 149.2h1.4M235.7 177.8h1.4M234.9 149.7h1.4M236.3 149.6h1.4M240.4 157.6h1.4M240.2 146.9h1.4M238.0 150.7h1.4M240.0 156.9h1.4M235.9 163.1h1.4M233.2 146.1h1.4M231.3 153.7h1.4M237.1 151.0h1.4M236.8 161.0h1.4M237.3 162.4h1.4M237.4 157.6h1.4M241.1 156.1h1.4M234.3 173.6h1.4M234.7 143.0h1.4M243.3 171.8h1.4M239.7 159.2h1.4M236.2 135.4h1.4M230.7 154.5h1.4M234.5 136.7h1.4M236.1 151.6h1.4M236.9 129.7h1.4M237.8 161.4h1.4M236.5 143.9h1.4M240.9 172.0h1.4M233.4 144.7h1.4M236.3 153.6h1.4M235.0 137.4h1.4M239.7 151.5h1.4M237.8 153.5h1.4M239.7 158.9h1.4M237.4 181.4h1.4M249.2 172.0h1.4M239.5 162.1h1.4M234.8 149.3h1.4M237.2 149.8h1.4M235.9 149.6h1.4M239.6 143.3h1.4M240.3 160.9h1.4M238.4 152.5h1.4M236.6 159.3h1.4M235.1 150.4h1.4M242.3 157.5h1.4M240.8 173.5h1.4M227.8 157.3h1.4M237.4 164.0h1.4M234.5 143.6h1.4M236.0 151.7h1.4M242.7 149.1h1.4M233.6 159.2h1.4M233.9 156.9h1.4M245.1 145.8h1.4M235.7 157.6h1.4M236.5 155.0h1.4M240.9 135.7h1.4M235.6 153.4h1.4M237.4 167.4h1.4M238.1 143.6h1.4M241.8 166.4h1.4M232.1 161.9h1.4M234.6 155.9h1.4M236.9 159.0h1.4M240.2 144.7h1.4M235.2 162.1h1.4M238.8 137.7h1.4M235.7 141.1h1.4M236.0 160.2h1.4M241.4 141.4h1.4M236.5 177.2h1.4M246.8 158.0h1.4M238.4 164.5h1.4M240.9 165.3h1.4M239.7 149.6h1.4M232.3 154.5h1.4M232.4 159.6h1.4M238.9 154.3h1.4M233.8 172.3h1.4M235.5 166.1h1.4M236.2 156.8h1.4M234.4 168.8h1.4M241.1 155.1h1.4M239.8 163.2h1.4M237.9 156.2h1.4M239.1 151.2h1.4M234.4 143.5h1.4M240.1 146.0h1.4M234.6 154.8h1.4M242.3 159.1h1.4M235.2 129.6h1.4M235.5 149.4h1.4M241.0 160.8h1.4M239.4 152.2h1.4M234.2 141.3h1.4M239.2 142.3h1.4M237.3 173.3h1.4M237.4 135.6h1.4M239.3 150.1h1.4M239.3 163.4h1.4M240.6 130.9h1.4M238.9 161.6h1.4M238.4 135.9h1.4M237.0 165.4h1.4M242.1 184.4h1.4M234.8 139.4h1.4M243.4 153.0h1.4M244.3 158.0h1.4M244.3 147.2h1.4M236.9 160.1h1.4M244.1 145.6h1.4M241.0 147.3h1.4M240.8 144.4h1.4M247.9 153.2h1.4M238.0 159.2h1.4M239.2 164.9h1.4M233.3 152.5h1.4M230.2 141.4h1.4M238.3 148.2h1.4M238.7 147.8h1.4M239.6 149.2h1.4M238.3 160.4h1.4M231.0 152.1h1.4M238.5 154.7h1.4M240.9 154.2h1.4M242.4 152.6h1.4M234.3 148.2h1.4M234.5 162.0h1.4M235.1 152.6h1.4M235.3 152.3h1.4M232.1 140.7h1.4M235.1 145.4h1.4M242.4 146.6h1.4M233.9 160.0h1.4M231.3 133.3h1.4M236.4 161.8h1.4M235.7 154.8h1.4M239.5 145.2h1.4M234.9 143.6h1.4M236.7 159.2h1.4M234.6 155.8h1.4M234.2 130.5h1.4M238.5 145.4h1.4M237.7 142.8h1.4M237.1 152.5h1.4M239.0 146.0h1.4M234.6 158.6h1.4M237.4 147.3h1.4M237.9 150.1h1.4M241.1 167.6h1.4M231.2 150.5h1.4M236.2 147.6h1.4M238.7 153.7h1.4M235.4 138.4h1.4M237.6 134.9h1.4M239.5 152.9h1.4M238.8 146.4h1.4M231.8 136.8h1.4M233.4 163.8h1.4M228.2 161.0h1.4M239.4 155.7h1.4M238.0 147.0h1.4M241.6 150.8h1.4M237.4 146.5h1.4M233.6 162.9h1.4M240.7 136.5h1.4M233.0 156.1h1.4M237.3 153.2h1.4M236.6 140.0h1.4M239.8 160.1h1.4M240.2 149.1h1.4M235.9 174.5h1.4M234.9 166.5h1.4M237.1 152.4h1.4M235.4 148.7h1.4M240.3 145.2h1.4M238.5 144.7h1.4M241.8 156.6h1.4M245.7 136.5h1.4M234.5 164.2h1.4M235.3 161.0h1.4M238.8 151.5h1.4M238.6 161.6h1.4M236.2 179.4h1.4M231.8 156.4h1.4M245.5 172.8h1.4M237.6 149.6h1.4M233.5 146.0h1.4M229.6 164.5h1.4M241.8 131.0h1.4M238.3 164.0h1.4M237.3 153.0h1.4M233.9 147.5h1.4M236.9 154.0h1.4M236.0 154.3h1.4M229.2 167.3h1.4M245.9 162.7h1.4M238.7 155.3h1.4M236.2 150.5h1.4M234.2 142.1h1.4M235.3 155.3h1.4M245.1 123.4h1.4M238.5 164.1h1.4M233.0 153.0h1.4M240.1 133.9h1.4M238.9 159.5h1.4M239.0 142.8h1.4M236.8 147.6h1.4M236.7 132.5h1.4M238.0 144.4h1.4M236.6 154.8h1.4M232.7 152.0h1.4M234.0 156.3h1.4M237.3 144.6h1.4M232.1 159.4h1.4M236.8 135.9h1.4M236.2 146.4h1.4M239.6 122.5h1.4M237.8 149.4h1.4M236.3 146.6h1.4M236.3 150.7h1.4M238.7 159.4h1.4M240.3 168.0h1.4M233.8 139.3h1.4M232.3 150.1h1.4M234.9 130.3h1.4M229.8 173.9h1.4M234.7 167.8h1.4M240.0 158.2h1.4M240.4 166.8h1.4M242.2 162.7h1.4M237.5 145.6h1.4M237.8 161.2h1.4M235.4 166.4h1.4M235.6 162.2h1.4M238.2 152.0h1.4M240.2 148.5h1.4M238.6 180.3h1.4M230.7 156.1h1.4M238.9 159.3h1.4M237.3 136.9h1.4M235.3 160.9h1.4M237.7 155.8h1.4M240.2 143.1h1.4M237.7 167.8h1.4M234.9 153.0h1.4M248.1 160.5h1.4M235.2 158.3h1.4M238.7 145.0h1.4M241.3 156.3h1.4M234.5 168.9h1.4M239.0 140.3h1.4M234.5 141.1h1.4M236.4 142.5h1.4M234.8 161.5h1.4M242.9 147.7h1.4M232.8 156.4h1.4M238.9 166.1h1.4M237.4 140.1h1.4M230.8 169.9h1.4M242.8 153.3h1.4M235.4 151.0h1.4M236.4 170.6h1.4M237.9 158.2h1.4M234.3 137.9h1.4M234.7 152.3h1.4M237.1 144.1h1.4M234.4 156.0h1.4M237.6 147.6h1.4M241.3 149.1h1.4M234.0 164.0h1.4M232.1 133.5h1.4M236.8 156.2h1.4M238.5 150.3h1.4M239.4 156.7h1.4M233.7 125.7h1.4M229.6 142.0h1.4M240.1 148.3h1.4M239.5 172.0h1.4M242.1 138.5h1.4M234.1 140.1h1.4M239.0 150.8h1.4M240.5 156.6h1.4M231.3 145.9h1.4M240.6 154.0h1.4M241.8 134.2h1.4M239.1 172.4h1.4M239.0 149.1h1.4M239.6 154.5h1.4M236.4 184.1h1.4M232.6 146.5h1.4M234.3 138.7h1.4M236.7 141.6h1.4M234.5 172.2h1.4M240.5 150.8h1.4M235.9 144.0h1.4M236.9 152.6h1.4M231.5 152.4h1.4M238.5 164.6h1.4M235.0 161.3h1.4M242.1 157.3h1.4M231.7 158.6h1.4M238.3 143.7h1.4M235.9 138.5h1.4M236.1 157.7h1.4M242.7 159.1h1.4M240.3 155.0h1.4M234.5 156.3h1.4M241.7 160.3h1.4M235.1 139.9h1.4M239.8 149.1h1.4M231.6 143.1h1.4M236.2 131.6h1.4M236.3 159.1h1.4M236.2 150.4h1.4M232.1 157.7h1.4M231.1 160.3h1.4M237.2 142.6h1.4M239.2 170.4h1.4M237.3 156.5h1.4M236.1 164.6h1.4M232.4 172.5h1.4M236.4 147.5h1.4M235.4 145.9h1.4M234.9 155.1h1.4M237.8 165.8h1.4M237.8 166.1h1.4M238.5 130.4h1.4M236.4 169.5h1.4M234.6 147.9h1.4M236.6 158.6h1.4M236.2 137.8h1.4M232.0 142.9h1.4M236.1 157.2h1.4M231.9 132.5h1.4M230.9 162.3h1.4M234.6 146.8h1.4M235.2 156.2h1.4M239.5 154.7h1.4M236.2 146.6h1.4M238.9 168.1h1.4M241.8 179.9h1.4M237.6 160.3h1.4M238.4 133.3h1.4M235.0 154.4h1.4M239.9 150.4h1.4M237.4 163.5h1.4M237.4 153.7h1.4M233.6 177.6h1.4M234.2 161.0h1.4M235.1 159.9h1.4M237.6 149.1h1.4M240.7 142.8h1.4M232.4 152.0h1.4M236.0 155.3h1.4M236.2 158.5h1.4M244.5 155.3h1.4M236.6 149.8h1.4M235.5 153.6h1.4M239.6 147.7h1.4M233.7 141.6h1.4M238.9 143.0h1.4M231.8 158.7h1.4M243.7 161.3h1.4M237.1 150.5h1.4M235.8 151.4h1.4M233.0 159.3h1.4M236.7 151.4h1.4M237.5 189.1h1.4M234.9 154.5h1.4M241.0 147.0h1.4M236.2 132.2h1.4M237.5 155.4h1.4M238.1 164.8h1.4M241.6 152.4h1.4M236.0 167.3h1.4M237.4 146.2h1.4M238.2 151.8h1.4M239.2 150.9h1.4M231.3 144.4h1.4M240.9 135.9h1.4M236.8 142.0h1.4M234.9 131.1h1.4M237.1 161.7h1.4M231.1 151.0h1.4M234.8 151.8h1.4M237.8 146.4h1.4M241.6 163.9h1.4M237.0 143.3h1.4M238.5 172.4h1.4M236.3 165.5h1.4M240.0 145.0h1.4M236.0 150.7h1.4M238.7 160.2h1.4M236.2 167.4h1.4M234.1 143.9h1.4M234.1 147.3h1.4M235.2 181.8h1.4M241.0 163.6h1.4M247.5 163.3h1.4M236.6 175.2h1.4M234.9 158.1h1.4M239.0 147.8h1.4M238.8 133.1h1.4M235.6 162.9h1.4M243.4 140.0h1.4M240.1 160.7h1.4M240.3 130.3h1.4M237.5 147.5h1.4M237.7 152.8h1.4M240.4 138.6h1.4M232.8 146.7h1.4M234.7 143.4h1.4M237.6 154.5h1.4M232.6 138.5h1.4M242.6 150.0h1.4M235.3 168.8h1.4M235.9 169.1h1.4M238.3 174.7h1.4M242.1 157.8h1.4M237.2 148.3h1.4M234.8 156.8h1.4M234.3 161.2h1.4M238.0 156.2h1.4M235.4 169.7h1.4M244.9 145.4h1.4M241.3 150.6h1.4M227.2 135.5h1.4M234.3 148.2h1.4M238.4 167.3h1.4M244.7 153.6h1.4M230.8 161.6h1.4M235.9 157.9h1.4M241.2 164.1h1.4M235.1 143.4h1.4M237.5 159.2h1.4M235.7 160.8h1.4M239.4 166.3h1.4M233.8 169.0h1.4M237.4 147.3h1.4M232.6 136.5h1.4M240.4 145.6h1.4M239.2 168.2h1.4M237.2 141.6h1.4M237.4 137.2h1.4M237.4 137.9h1.4M236.1 138.0h1.4M237.8 161.3h1.4M238.5 144.2h1.4M237.1 145.8h1.4M235.4 166.1h1.4M236.0 163.8h1.4M235.8 163.1h1.4M238.8 144.2h1.4M237.8 133.4h1.4M243.6 157.0h1.4M236.7 173.2h1.4M237.5 148.9h1.4M235.3 149.9h1.4M237.6 115.6h1.4M235.9 172.9h1.4M234.6 150.7h1.4M237.8 133.0h1.4M242.4 152.3h1.4M234.5 146.2h1.4M235.2 160.2h1.4M237.2 177.8h1.4M238.1 143.7h1.4M241.5 154.8h1.4M235.2 148.6h1.4M236.8 145.4h1.4M234.7 158.3h1.4M234.5 170.8h1.4M235.8 158.1h1.4M233.7 148.1h1.4M238.7 159.0h1.4M240.6 155.7h1.4M235.6 162.4h1.4M235.0 146.7h1.4M241.5 154.6h1.4M236.6 171.9h1.4M242.0 153.2h1.4M228.0 164.2h1.4M236.7 152.9h1.4M234.0 153.8h1.4M235.5 144.5h1.4M239.8 185.8h1.4M240.7 166.8h1.4M236.7 166.6h1.4M240.2 166.3h1.4M233.6 141.3h1.4M238.1 144.3h1.4M236.7 150.9h1.4M231.8 133.7h1.4M240.1 142.6h1.4M235.1 162.5h1.4M238.6 128.4h1.4M234.8 142.6h1.4M237.8 151.8h1.4M239.2 151.9h1.4M237.2 152.6h1.4M235.7 144.2h1.4M239.2 163.4h1.4M237.9 125.8h1.4M235.9 157.7h1.4M237.4 135.5h1.4M237.0 144.6h1.4M236.1 152.1h1.4M240.1 171.5h1.4M242.8 142.5h1.4M235.6 136.3h1.4M236.9 164.2h1.4M234.2 152.0h1.4M233.0 153.1h1.4M240.9 159.4h1.4M235.1 164.5h1.4M238.3 154.8h1.4M232.9 128.7h1.4M235.2 150.6h1.4M238.8 153.2h1.4M238.8 139.6h1.4M238.0 141.2h1.4M238.6 160.3h1.4M237.9 155.8h1.4M240.5 142.5h1.4M242.7 159.5h1.4M239.1 154.5h1.4M236.9 138.1h1.4M234.0 149.8h1.4M235.7 137.8h1.4M236.2 143.0h1.4M241.9 156.4h1.4M232.3 138.9h1.4M234.7 138.6h1.4M233.9 157.3h1.4M240.0 141.4h1.4M235.0 149.8h1.4M231.4 150.1h1.4M230.7 151.1h1.4M238.2 157.4h1.4M232.0 148.0h1.4M240.7 144.0h1.4M240.6 147.7h1.4M233.6 166.4h1.4M236.1 163.7h1.4M237.3 152.4h1.4M232.4 167.2h1.4M233.2 161.2h1.4M235.2 140.6h1.4M237.1 170.4h1.4M238.0 185.3h1.4M231.2 157.2h1.4M237.9 134.3h1.4M236.8 170.3h1.4M236.3 160.0h1.4M235.7 151.8h1.4M240.4 129.6h1.4M242.2 151.8h1.4M235.7 149.5h1.4M236.6 149.4h1.4M232.1 148.1h1.4M235.9 164.1h1.4M239.3 148.1h1.4M236.8 158.0h1.4M238.3 131.0h1.4M236.8 141.6h1.4M237.5 152.9h1.4M239.3 142.7h1.4M239.6 153.4h1.4M231.0 152.4h1.4M236.5 155.2h1.4M227.9 149.2h1.4M237.3 160.4h1.4M235.5 137.3h1.4M235.3 148.4h1.4M242.2 170.6h1.4M238.4 148.2h1.4M240.9 170.7h1.4M239.3 157.1h1.4M242.7 150.3h1.4M236.5 154.1h1.4M236.5 171.5h1.4M237.0 149.4h1.4M245.1 140.2h1.4M235.9 158.8h1.4M237.4 161.3h1.4M241.7 162.9h1.4M240.2 135.5h1.4M235.7 157.6h1.4M242.9 153.8h1.4M238.8 150.2h1.4M241.9 147.6h1.4M239.2 158.4h1.4M239.8 152.3h1.4M234.9 152.5h1.4M241.8 176.1h1.4M235.1 153.7h1.4M237.5 139.7h1.4M240.8 142.4h1.4M236.2 144.2h1.4M237.7 134.4h1.4M237.3 165.5h1.4M237.8 174.4h1.4M239.2 145.7h1.4M232.5 163.4h1.4M235.6 144.3h1.4M243.9 145.1h1.4M231.0 132.8h1.4M235.3 152.3h1.4M239.9 167.2h1.4M231.4 167.5h1.4M234.5 159.0h1.4M234.7 149.9h1.4M242.3 166.8h1.4M234.5 173.0h1.4M239.3 144.1h1.4M235.3 156.0h1.4M237.3 152.4h1.4M233.7 145.6h1.4M232.6 139.4h1.4M235.8 143.4h1.4M232.9 154.3h1.4M236.7 155.9h1.4M237.7 154.6h1.4M238.6 167.7h1.4M242.2 145.1h1.4M241.8 138.5h1.4M233.8 139.4h1.4M234.9 157.5h1.4M242.7 146.8h1.4M231.6 173.4h1.4M239.3 171.4h1.4M240.7 180.5h1.4M237.0 175.5h1.4M238.4 178.1h1.4M232.3 174.3h1.4M232.3 184.4h1.4M237.0 178.9h1.4M237.1 183.2h1.4M235.9 173.6h1.4M235.6 175.5h1.4M234.6 173.0h1.4M240.8 170.1h1.4M233.9 172.8h1.4M236.1 178.2h1.4M239.6 171.9h1.4M233.4 178.5h1.4M236.9 174.0h1.4M236.2 178.8h1.4M238.4 179.8h1.4M229.2 183.9h1.4M235.6 181.3h1.4M234.1 177.6h1.4M239.8 178.7h1.4M236.3 176.1h1.4M234.8 174.4h1.4M239.2 170.6h1.4M238.4 176.1h1.4M239.6 177.0h1.4M239.8 182.8h1.4M238.8 174.1h1.4M234.8 184.3h1.4M237.4 170.1h1.4M237.4 176.5h1.4M237.6 186.9h1.4M237.5 175.4h1.4M236.8 173.3h1.4M235.2 173.5h1.4M236.3 187.0h1.4M233.6 184.0h1.4M233.8 176.2h1.4M238.7 174.4h1.4M235.5 167.1h1.4M236.8 176.5h1.4M234.9 184.8h1.4M231.6 171.3h1.4M235.3 182.6h1.4M241.3 177.9h1.4M236.2 184.4h1.4M234.5 176.1h1.4M238.6 177.7h1.4M235.0 184.0h1.4M234.7 180.5h1.4M231.8 182.7h1.4M231.3 178.5h1.4M237.7 176.2h1.4M236.9 174.9h1.4M236.6 178.0h1.4M238.6 176.8h1.4M235.1 177.1h1.4M236.6 168.4h1.4M233.9 172.7h1.4M233.9 178.5h1.4M234.2 183.7h1.4M239.4 172.5h1.4M238.6 174.4h1.4M233.5 178.8h1.4M235.5 182.2h1.4M236.9 184.6h1.4M234.1 179.9h1.4M238.5 176.7h1.4M234.1 175.2h1.4M235.5 179.8h1.4M235.5 176.8h1.4M231.0 180.8h1.4M231.2 176.2h1.4M233.9 183.5h1.4M240.0 174.3h1.4M238.2 170.2h1.4M237.8 176.9h1.4M234.6 173.7h1.4M235.1 180.6h1.4M236.6 183.3h1.4M237.3 179.6h1.4M231.9 179.0h1.4M234.4 175.0h1.4M234.2 176.6h1.4M240.4 185.1h1.4M234.8 183.0h1.4M234.0 174.4h1.4M238.9 172.5h1.4M235.2 179.9h1.4M239.3 176.9h1.4M233.6 179.5h1.4M242.1 177.9h1.4M236.2 173.3h1.4M236.9 174.2h1.4M235.8 182.5h1.4M236.3 179.3h1.4M236.5 176.8h1.4M235.5 177.9h1.4M240.2 179.0h1.4M229.7 182.2h1.4M232.8 176.6h1.4M235.4 173.4h1.4M236.1 181.5h1.4M240.8 170.7h1.4M238.1 185.9h1.4M236.5 173.0h1.4M234.1 176.3h1.4M242.4 179.9h1.4M239.1 182.9h1.4M244.1 174.8h1.4M232.0 168.5h1.4M241.7 175.1h1.4M236.2 169.1h1.4M233.9 176.9h1.4M236.9 181.4h1.4M236.8 181.2h1.4M235.5 178.9h1.4M232.1 180.9h1.4M235.4 181.1h1.4M232.6 178.0h1.4M236.8 176.2h1.4M232.4 184.9h1.4M237.1 179.7h1.4M235.3 183.7h1.4M239.4 178.4h1.4M234.1 180.7h1.4M232.4 183.3h1.4M232.3 182.9h1.4M237.3 184.9h1.4M248.3 175.2h1.4M232.3 177.8h1.4M234.6 177.1h1.4M241.1 171.8h1.4M238.4 178.1h1.4M240.3 173.2h1.4M237.4 171.9h1.4M237.9 180.1h1.4M236.6 184.2h1.4M233.1 172.6h1.4M237.1 181.8h1.4M233.5 180.2h1.4M238.3 172.7h1.4M228.2 178.7h1.4M230.1 180.0h1.4M235.9 188.0h1.4M236.6 178.9h1.4M241.9 182.3h1.4M233.8 176.6h1.4M238.2 181.7h1.4M230.8 184.0h1.4M243.4 171.9h1.4M228.4 179.1h1.4M240.8 178.1h1.4M235.1 171.8h1.4M230.7 180.4h1.4M234.5 173.3h1.4M238.8 176.9h1.4M235.7 180.1h1.4M233.6 182.2h1.4M236.6 179.6h1.4M236.1 177.3h1.4M238.8 174.6h1.4M238.1 173.6h1.4M234.7 176.2h1.4M233.7 177.4h1.4M236.2 175.9h1.4M235.6 179.1h1.4M236.8 174.9h1.4M233.0 172.7h1.4M236.4 180.9h1.4M233.6 176.0h1.4M237.7 170.2h1.4M236.8 173.8h1.4M235.3 177.0h1.4M231.3 179.3h1.4M239.4 177.5h1.4M233.5 187.5h1.4M234.6 173.1h1.4M235.8 185.1h1.4M237.3 178.3h1.4M234.4 177.5h1.4M234.5 169.2h1.4M231.8 178.8h1.4M239.2 179.5h1.4M234.6 174.3h1.4M234.7 172.2h1.4M229.8 175.3h1.4M234.3 179.6h1.4M238.7 177.1h1.4M239.2 183.5h1.4M233.0 177.4h1.4M236.3 181.4h1.4M238.0 172.0h1.4M231.8 179.0h1.4M235.0 183.3h1.4M238.2 175.9h1.4M239.4 178.8h1.4M216.5 142.9h1.4M218.7 162.1h1.4M221.3 145.9h1.4M217.4 123.2h1.4M221.8 160.1h1.4M234.3 155.3h1.4M223.3 172.0h1.4M226.5 153.5h1.4M235.0 152.1h1.4M225.0 150.3h1.4M223.9 140.0h1.4M221.7 156.0h1.4M232.1 144.2h1.4M230.8 136.4h1.4M238.3 150.4h1.4M238.4 153.3h1.4M215.2 157.4h1.4M229.9 162.0h1.4M238.7 184.8h1.4M227.1 147.9h1.4M226.1 172.1h1.4M217.6 152.0h1.4M232.5 153.8h1.4M218.5 164.1h1.4M226.2 139.1h1.4M222.9 150.8h1.4M228.1 162.2h1.4M222.3 130.2h1.4M222.3 137.8h1.4M231.8 145.2h1.4M224.8 151.5h1.4M231.0 163.4h1.4M220.8 132.6h1.4M234.8 172.8h1.4M228.5 162.4h1.4M233.1 161.0h1.4M230.2 122.3h1.4M214.9 156.8h1.4M232.0 162.9h1.4M221.9 150.4h1.4M222.4 145.4h1.4M219.6 138.0h1.4M221.4 148.3h1.4M227.0 161.9h1.4M230.8 127.2h1.4M223.1 140.5h1.4M210.8 148.0h1.4M228.9 148.8h1.4M227.0 144.7h1.4M221.0 154.7h1.4M216.6 152.9h1.4M216.3 120.3h1.4M233.2 167.1h1.4M221.0 130.4h1.4M232.8 169.3h1.4M223.4 163.4h1.4M230.7 125.3h1.4M219.0 153.4h1.4M216.8 172.2h1.4M223.7 172.6h1.4M213.7 154.6h1.4M216.3 140.2h1.4M228.0 170.0h1.4M235.2 129.3h1.4M226.2 129.4h1.4M214.2 163.5h1.4M218.3 133.6h1.4M226.1 160.1h1.4M224.1 135.8h1.4M240.6 142.4h1.4M237.3 169.3h1.4M223.1 150.7h1.4M238.7 161.5h1.4M218.8 149.1h1.4M218.8 145.1h1.4M234.4 141.5h1.4M218.2 138.0h1.4M221.4 157.9h1.4M235.5 158.7h1.4M222.3 176.9h1.4M233.9 156.2h1.4M229.7 148.0h1.4M222.3 159.5h1.4M229.3 173.6h1.4M232.4 130.3h1.4M230.5 177.0h1.4M219.6 139.8h1.4M231.2 139.9h1.4M223.0 168.4h1.4M225.3 143.8h1.4M231.2 164.9h1.4M234.0 172.4h1.4M216.1 162.3h1.4M221.3 168.5h1.4M224.1 157.4h1.4M221.8 159.8h1.4M227.4 134.9h1.4M229.1 136.6h1.4M229.4 154.9h1.4M222.7 131.8h1.4M245.9 162.1h1.4M217.3 150.8h1.4M223.6 169.7h1.4M235.2 165.4h1.4M230.4 145.8h1.4M230.2 111.6h1.4M233.4 130.3h1.4M223.9 152.0h1.4M225.8 182.7h1.4M232.6 152.3h1.4M235.8 160.8h1.4M216.8 151.7h1.4M221.8 112.0h1.4M225.3 161.1h1.4M231.2 148.2h1.4M217.2 129.4h1.4M231.5 162.4h1.4M220.9 151.3h1.4M227.0 118.7h1.4M235.1 140.0h1.4M218.6 152.7h1.4M229.1 146.3h1.4M223.5 161.8h1.4M220.8 165.4h1.4M231.6 159.2h1.4M219.0 153.0h1.4M230.2 141.6h1.4M218.6 154.8h1.4M217.6 165.4h1.4M229.8 153.8h1.4M239.4 120.5h1.4M228.3 177.3h1.4M219.1 144.6h1.4M227.4 165.3h1.4M223.2 144.6h1.4M220.8 168.3h1.4M226.6 147.1h1.4M228.7 174.4h1.4M230.5 171.7h1.4M218.4 142.4h1.4M223.2 157.3h1.4M214.6 137.2h1.4M219.6 166.8h1.4M225.9 157.7h1.4M219.5 146.5h1.4M226.4 137.8h1.4M219.1 139.3h1.4M231.7 174.1h1.4M226.1 166.5h1.4M223.3 148.8h1.4M231.4 156.9h1.4M218.8 165.9h1.4M223.9 149.3h1.4M228.7 125.0h1.4M227.3 177.0h1.4M225.3 147.2h1.4M230.6 142.9h1.4M221.5 152.5h1.4M224.7 137.7h1.4M219.1 135.8h1.4M224.4 155.5h1.4M217.2 141.5h1.4M217.2 158.5h1.4M224.7 158.2h1.4M218.1 181.8h1.4M229.8 148.2h1.4M231.1 153.5h1.4M228.6 144.0h1.4M229.7 170.1h1.4M228.2 159.5h1.4M215.0 158.0h1.4M217.6 180.6h1.4M227.0 156.6h1.4M217.7 156.3h1.4M220.4 132.6h1.4M224.6 126.1h1.4M226.8 144.6h1.4M214.5 153.8h1.4M225.0 135.9h1.4M230.4 137.9h1.4M227.3 163.7h1.4M234.6 143.8h1.4M221.8 143.5h1.4M233.1 147.2h1.4M238.9 135.9h1.4M229.5 165.3h1.4M231.3 173.8h1.4M231.5 167.9h1.4M210.7 175.4h1.4M220.3 122.7h1.4M231.9 165.9h1.4M216.6 150.4h1.4M226.8 173.1h1.4M228.4 142.7h1.4M233.1 164.6h1.4M224.0 179.2h1.4M230.5 161.8h1.4M224.7 154.6h1.4M235.1 150.2h1.4M220.7 160.6h1.4M221.4 149.9h1.4M227.4 135.3h1.4M235.7 162.2h1.4M226.5 177.9h1.4M224.6 158.9h1.4M220.8 169.2h1.4M231.6 171.3h1.4M220.3 153.7h1.4M223.2 152.1h1.4M223.0 140.9h1.4M232.1 156.6h1.4M219.2 160.6h1.4M219.3 139.0h1.4M226.1 148.7h1.4M225.1 168.9h1.4M215.2 143.2h1.4M219.0 164.2h1.4M220.6 158.7h1.4M225.1 148.5h1.4M219.3 166.5h1.4M237.6 162.4h1.4M226.6 152.3h1.4M232.7 154.6h1.4M226.9 159.0h1.4M226.4 160.6h1.4M229.6 159.7h1.4M222.6 163.8h1.4M213.0 145.7h1.4M227.7 175.2h1.4M219.9 151.7h1.4M233.3 150.5h1.4M218.9 172.8h1.4M225.8 168.2h1.4M225.0 125.3h1.4M221.1 153.1h1.4M222.3 164.7h1.4M223.7 161.3h1.4M226.0 128.1h1.4M226.5 142.6h1.4M225.1 141.6h1.4M224.8 162.6h1.4M233.8 158.6h1.4M229.3 152.7h1.4M216.6 141.0h1.4M219.4 169.3h1.4M211.0 120.2h1.4M221.8 162.2h1.4M235.7 157.8h1.4M225.9 153.1h1.4M226.3 155.3h1.4M225.4 163.2h1.4M228.7 143.2h1.4M224.6 164.1h1.4M219.5 153.2h1.4M244.7 140.3h1.4M233.7 157.4h1.4M239.0 154.3h1.4M243.4 168.6h1.4M241.6 162.1h1.4M247.9 157.4h1.4M238.3 141.1h1.4M249.1 145.4h1.4M247.5 164.4h1.4M245.1 153.6h1.4M242.3 170.8h1.4M239.6 141.6h1.4M239.4 165.4h1.4M241.4 148.3h1.4M244.2 157.3h1.4M246.9 125.3h1.4M247.1 161.3h1.4M248.5 137.5h1.4M248.3 168.7h1.4M241.5 163.8h1.4M242.1 141.5h1.4M248.5 173.1h1.4M241.0 173.7h1.4M248.3 177.2h1.4M244.4 169.6h1.4M238.7 145.8h1.4M246.0 172.9h1.4M245.1 132.7h1.4M241.0 146.5h1.4M234.7 156.4h1.4M245.4 127.3h1.4M246.0 169.3h1.4M247.5 160.7h1.4M245.9 149.4h1.4M241.4 119.4h1.4M237.6 141.4h1.4M243.7 163.4h1.4M248.1 161.1h1.4M243.9 137.9h1.4M239.4 131.9h1.4M237.6 151.7h1.4M233.7 133.9h1.4M245.0 127.0h1.4M246.0 172.9h1.4M235.6 151.3h1.4M241.8 156.7h1.4M249.9 147.5h1.4M235.7 165.5h1.4M250.2 165.6h1.4M248.9 148.8h1.4M247.7 144.7h1.4M246.3 145.1h1.4M246.3 164.6h1.4M246.8 153.1h1.4M250.9 133.3h1.4M239.9 171.0h1.4M237.2 151.5h1.4M236.3 158.5h1.4M245.2 172.4h1.4M248.4 158.7h1.4M232.6 184.2h1.4M231.7 185.1h1.4M232.9 189.0h1.4M230.9 185.7h1.4M228.9 183.2h1.4M228.6 184.7h1.4M228.2 184.5h1.4M230.3 186.6h1.4M227.4 188.3h1.4M231.5 185.4h1.4M227.5 185.5h1.4M233.2 182.3h1.4M229.7 184.6h1.4M226.7 184.5h1.4M231.0 183.1h1.4M241.1 183.6h1.4M226.5 184.1h1.4M228.7 186.0h1.4M234.8 184.5h1.4M227.0 186.5h1.4M225.6 185.4h1.4M225.4 188.1h1.4M233.7 184.4h1.4M224.8 188.7h1.4M235.9 186.1h1.4M231.7 183.4h1.4M228.7 186.4h1.4M233.7 182.8h1.4M229.2 183.5h1.4M228.1 184.8h1.4M224.2 188.2h1.4M223.5 186.4h1.4M230.2 182.9h1.4M221.2 186.9h1.4M223.0 188.5h1.4M223.1 191.7h1.4M228.9 189.2h1.4M223.6 183.8h1.4" stroke="#000" stroke-width="1.4" fill="none"/>
<rect x="57" y="258.7" width="145.90" height="157.30" fill="none" stroke="#000" stroke-width="1.3"/>
<rect x="209.2" y="258.8" width="146.00" height="157.70" fill="none" stroke="#000" stroke-width="1.3"/>
<line x1="110" y1="258.7" x2="110" y2="416.0" stroke="#000" stroke-width="1.3"/>
<line x1="57" y1="371" x2="202.9" y2="371" stroke="#000" stroke-width="1.3"/>
<line x1="263" y1="258.8" x2="263" y2="416.5" stroke="#000" stroke-width="1.3"/>
<line x1="209.2" y1="371" x2="355.2" y2="371" stroke="#000" stroke-width="1.3"/>
<polygon points="9.5,272.5 1.1,288.3 17.9,288.3" fill="#000"/>
<line x1="9.5" y1="287.5" x2="9.5" y2="298" stroke="#000" stroke-width="1.4"/>
<text transform="translate(16.3,362.3) rotate(-90)" font-size="20.2">CD83</text>
<line x1="9.3" y1="371.5" x2="9.3" y2="398" stroke="#000" stroke-width="1.4"/>
<text transform="translate(24.3,302) scale(1,0.95)" font-size="16">10<tspan font-size="9.2" dy="-4.11" dx="0.8" stroke-width="0.35">3</tspan></text>
<line x1="50.3" y1="298" x2="57" y2="298" stroke="#000" stroke-width="1.3"/>
<text transform="translate(24.3,341) scale(1,0.95)" font-size="16">10<tspan font-size="9.2" dy="-4.11" dx="0.8" stroke-width="0.35">2</tspan></text>
<line x1="50.3" y1="337.4" x2="57" y2="337.4" stroke="#000" stroke-width="1.3"/>
<text transform="translate(24.3,379) scale(1,0.95)" font-size="16">10<tspan font-size="9.2" dy="-4.11" dx="0.8" stroke-width="0.35">1</tspan></text>
<line x1="50.3" y1="374.6" x2="57" y2="374.6" stroke="#000" stroke-width="1.3"/>
<text transform="translate(61.5,280.2) scale(1.0,0.95)" font-size="16.5" text-anchor="start" >0.2</text>
<text transform="translate(202.3,280.2) scale(1.0,0.95)" font-size="16.5" text-anchor="end" >10.8</text>
<text transform="translate(219.3,280.2) scale(1.0,0.95)" font-size="16.5" text-anchor="start" >0.5</text>
<text transform="translate(343.5,280.2) scale(1.0,0.95)" font-size="16.5" text-anchor="end" >86</text>
<text transform="translate(61,407) scale(1.0,0.95)" font-size="16.5" text-anchor="start" >45</text>
<text transform="translate(188,407) scale(1.0,0.95)" font-size="16.5" text-anchor="end" >44</text>
<text transform="translate(217.5,407) scale(1.0,0.95)" font-size="16.5" text-anchor="start" >7</text>
<text transform="translate(348.8,407) scale(1.0,0.95)" font-size="16.5" text-anchor="end" >6.5</text>
<line x1="94.3" y1="416.0" x2="94.3" y2="422.4" stroke="#000" stroke-width="1.2"/>
<line x1="130.7" y1="416.0" x2="130.7" y2="422.4" stroke="#000" stroke-width="1.2"/>
<line x1="166.2" y1="416.0" x2="166.2" y2="422.4" stroke="#000" stroke-width="1.2"/>
<line x1="247.0" y1="416.5" x2="247.0" y2="422.6" stroke="#000" stroke-width="1.2"/>
<line x1="282.3" y1="416.5" x2="282.3" y2="422.6" stroke="#000" stroke-width="1.2"/>
<line x1="318.6" y1="416.5" x2="318.6" y2="422.6" stroke="#000" stroke-width="1.2"/>
<text transform="translate(81.7,437.5) scale(1,0.96)" font-size="16">10<tspan font-size="9.2" dy="-4.06" dx="0.8" stroke-width="0.35">1</tspan></text>
<text transform="translate(119.6,437.5) scale(1,0.96)" font-size="16">10<tspan font-size="9.2" dy="-4.06" dx="0.8" stroke-width="0.35">2</tspan></text>
<text transform="translate(152.3,437.5) scale(1,0.96)" font-size="16">10<tspan font-size="9.2" dy="-4.06" dx="0.8" stroke-width="0.35">3</tspan></text>
<text transform="translate(233.6,437.5) scale(1,0.96)" font-size="16">10<tspan font-size="9.2" dy="-4.06" dx="0.8" stroke-width="0.35">1</tspan></text>
<text transform="translate(270.7,437.5) scale(1,0.96)" font-size="16">10<tspan font-size="9.2" dy="-4.06" dx="0.8" stroke-width="0.35">2</tspan></text>
<text transform="translate(306.3,437.5) scale(1,0.96)" font-size="16">10<tspan font-size="9.2" dy="-4.06" dx="0.8" stroke-width="0.35">3</tspan></text>
<line x1="49" y1="455.4" x2="154.2" y2="455.4" stroke="#000" stroke-width="1.4"/>
<text x="161.2" y="461.9" font-size="20.5" text-anchor="start" >HLA-DR</text>
<line x1="244" y1="455.4" x2="333" y2="455.4" stroke="#000" stroke-width="1.4"/>
<polygon points="348.7,455.4 332.4,447.2 332.4,463.6" fill="#000"/>
<path d="M102.4 393.7h1.4M106.4 393.7h1.4M102.0 393.3h1.4M103.1 395.2h1.4M99.6 388.6h1.4M104.5 392.1h1.4M103.2 392.1h1.4M100.0 391.2h1.4M106.1 391.6h1.4M108.4 392.4h1.4M106.0 390.8h1.4M98.8 396.6h1.4M105.0 396.3h1.4M107.3 390.5h1.4M108.8 394.0h1.4M109.2 393.5h1.4M108.0 392.1h1.4M103.0 391.3h1.4M106.1 392.8h1.4M107.0 392.0h1.4M104.4 390.4h1.4M105.3 393.7h1.4M99.3 392.2h1.4M105.2 394.3h1.4M101.9 388.7h1.4M103.2 389.9h1.4M111.4 384.1h1.4M104.9 390.7h1.4M105.3 388.9h1.4M101.1 393.1h1.4M97.3 394.2h1.4M98.5 392.0h1.4M102.4 393.8h1.4M102.9 390.0h1.4M95.9 388.9h1.4M100.9 394.9h1.4M103.9 394.0h1.4M100.2 393.4h1.4M102.2 390.9h1.4M104.4 394.0h1.4M109.3 392.9h1.4M105.4 397.8h1.4M110.6 385.2h1.4M97.7 388.9h1.4M109.6 393.5h1.4M103.1 393.4h1.4M108.3 392.3h1.4M112.7 390.9h1.4M108.1 389.9h1.4M105.8 395.4h1.4M111.0 394.1h1.4M101.8 392.5h1.4M108.5 392.5h1.4M105.6 395.6h1.4M105.6 389.2h1.4M101.2 389.0h1.4M105.4 391.3h1.4M105.5 389.1h1.4M103.8 393.7h1.4M105.4 393.3h1.4M97.8 393.5h1.4M108.1 391.0h1.4M102.8 390.2h1.4M105.0 392.6h1.4M101.1 386.7h1.4M102.4 388.0h1.4M101.1 389.3h1.4M109.5 388.1h1.4M100.3 391.7h1.4M100.6 388.9h1.4M103.1 393.2h1.4M98.5 391.5h1.4M99.4 387.8h1.4M104.8 385.7h1.4M105.2 395.9h1.4M107.3 392.2h1.4M105.9 392.5h1.4M100.1 390.4h1.4M99.3 389.3h1.4M108.5 394.6h1.4M94.2 389.0h1.4M104.6 390.5h1.4M106.9 391.4h1.4M109.1 389.3h1.4M109.9 390.0h1.4M108.7 390.1h1.4M112.4 390.1h1.4M95.9 395.4h1.4M102.6 391.6h1.4M105.4 393.8h1.4M93.9 389.7h1.4M100.5 390.2h1.4M109.1 389.8h1.4M101.0 387.8h1.4M108.4 391.4h1.4M106.8 388.0h1.4M109.2 388.5h1.4M107.6 391.4h1.4M106.4 392.1h1.4M107.0 389.5h1.4M100.1 391.9h1.4M111.4 394.1h1.4M103.0 394.9h1.4M100.4 393.7h1.4M106.0 390.7h1.4M97.8 394.7h1.4M113.2 390.5h1.4M114.6 390.5h1.4M109.3 393.6h1.4M99.9 392.5h1.4M106.1 392.6h1.4M105.3 389.5h1.4M101.8 390.9h1.4M102.8 392.3h1.4M106.1 392.7h1.4M102.0 392.9h1.4M104.0 387.3h1.4M104.4 396.8h1.4M98.6 393.6h1.4M102.8 389.6h1.4M102.4 394.4h1.4M111.5 391.0h1.4M104.9 390.6h1.4M106.2 395.4h1.4M105.4 388.8h1.4M104.3 389.1h1.4M104.7 389.5h1.4M103.8 390.2h1.4M95.0 399.5h1.4M104.5 390.5h1.4M101.6 389.2h1.4M103.0 392.0h1.4M100.1 393.4h1.4M100.3 394.7h1.4M104.4 389.5h1.4M102.3 396.3h1.4M104.6 392.0h1.4M105.4 389.5h1.4M104.3 389.7h1.4M104.8 392.7h1.4M101.7 391.7h1.4M103.4 390.6h1.4M107.1 391.9h1.4M103.6 397.2h1.4M107.0 395.0h1.4M104.6 390.4h1.4M108.9 389.8h1.4M100.0 394.1h1.4M105.6 389.0h1.4M108.1 387.1h1.4M100.9 389.3h1.4M105.0 388.4h1.4M105.9 387.9h1.4M103.8 391.0h1.4M108.5 389.5h1.4M105.9 390.6h1.4M103.3 392.4h1.4M108.0 390.1h1.4M106.0 387.9h1.4M116.8 388.9h1.4M97.3 393.7h1.4M105.0 388.9h1.4M104.1 388.8h1.4M104.3 392.5h1.4M95.4 389.5h1.4M104.6 389.2h1.4M101.7 392.1h1.4M107.4 391.1h1.4M99.3 390.3h1.4M111.7 390.3h1.4M103.9 394.1h1.4M102.0 392.3h1.4M105.5 389.8h1.4M97.6 390.6h1.4M99.4 395.4h1.4M106.6 390.9h1.4M102.7 392.4h1.4M104.4 392.2h1.4M94.0 390.6h1.4M97.9 392.1h1.4M96.4 389.5h1.4M111.2 390.7h1.4M103.1 394.3h1.4M109.5 391.0h1.4M102.6 395.3h1.4M108.4 391.9h1.4M101.3 392.9h1.4M101.7 391.9h1.4M103.1 389.5h1.4M104.1 394.1h1.4M94.8 395.2h1.4M103.6 392.3h1.4M99.4 391.7h1.4M100.6 391.1h1.4M102.3 392.8h1.4M101.8 394.2h1.4M103.3 393.8h1.4M108.4 392.1h1.4M108.6 391.5h1.4M111.4 391.7h1.4M100.7 391.3h1.4M103.2 389.0h1.4M102.3 396.5h1.4M101.7 389.7h1.4M106.4 389.2h1.4M107.0 394.9h1.4M103.3 392.8h1.4M104.5 392.8h1.4M109.4 390.1h1.4M103.3 391.5h1.4M108.8 393.3h1.4M104.0 398.2h1.4M106.1 392.8h1.4M112.2 391.7h1.4M101.7 393.2h1.4M105.7 391.6h1.4M109.7 389.5h1.4M104.8 387.2h1.4M110.1 392.6h1.4M115.5 387.7h1.4M110.5 394.2h1.4M104.0 390.2h1.4M100.7 390.5h1.4M105.2 388.6h1.4M101.9 389.0h1.4M100.9 390.0h1.4M107.6 392.1h1.4M107.3 390.2h1.4M97.1 391.2h1.4M102.1 390.2h1.4M99.8 392.7h1.4M107.3 392.2h1.4M106.1 392.5h1.4M108.6 388.8h1.4M104.3 389.5h1.4M106.7 388.2h1.4M107.5 393.0h1.4M104.2 385.0h1.4M108.3 394.9h1.4M96.4 390.8h1.4M108.9 389.7h1.4M98.4 391.9h1.4M102.7 390.7h1.4M105.4 390.5h1.4M104.9 392.2h1.4M98.2 392.9h1.4M104.4 390.1h1.4M94.5 395.5h1.4M103.2 388.2h1.4M102.1 393.5h1.4M110.8 391.8h1.4M102.8 388.9h1.4M100.8 393.5h1.4M100.9 394.6h1.4M100.3 387.7h1.4M104.0 392.8h1.4M105.0 391.1h1.4M111.2 391.7h1.4M98.3 387.5h1.4M106.6 392.8h1.4M97.8 394.4h1.4M102.7 392.1h1.4M109.0 389.6h1.4M109.4 390.4h1.4M107.8 392.1h1.4M101.5 391.0h1.4M108.3 388.0h1.4M110.7 388.4h1.4M97.9 388.0h1.4M101.6 391.5h1.4M104.5 395.8h1.4M105.2 394.5h1.4M105.5 390.8h1.4M103.2 390.9h1.4M101.2 393.7h1.4M106.4 393.0h1.4M100.9 394.5h1.4M103.4 392.5h1.4M106.2 390.4h1.4M106.1 392.8h1.4M132.0 381.7h1.4M121.6 389.1h1.4M134.2 391.0h1.4M113.7 387.3h1.4M117.7 385.8h1.4M121.4 395.4h1.4M119.1 392.8h1.4M126.3 387.1h1.4M122.1 389.9h1.4M124.4 396.2h1.4M130.3 385.0h1.4M111.5 395.0h1.4M117.8 392.6h1.4M133.8 389.6h1.4M117.5 390.6h1.4M112.4 394.2h1.4M113.9 388.4h1.4M111.7 392.0h1.4M118.7 395.2h1.4M121.6 389.7h1.4M122.1 390.7h1.4M125.1 392.7h1.4M118.7 385.2h1.4M125.5 382.7h1.4M127.6 394.0h1.4M110.0 393.1h1.4M112.8 393.2h1.4M123.1 388.6h1.4M111.6 392.0h1.4M127.3 392.1h1.4M115.6 390.9h1.4M115.4 389.4h1.4M120.7 387.4h1.4M136.1 383.1h1.4M111.9 383.6h1.4M119.4 389.2h1.4M114.5 389.8h1.4M123.7 398.1h1.4M118.7 388.6h1.4M119.3 386.8h1.4M123.0 396.3h1.4M118.1 388.3h1.4M120.0 389.3h1.4M123.4 393.2h1.4M119.5 393.9h1.4M117.9 394.2h1.4M113.6 393.7h1.4M122.7 387.0h1.4M120.6 388.3h1.4M118.7 389.2h1.4M115.3 393.4h1.4M116.3 390.3h1.4M113.0 395.3h1.4M132.1 389.7h1.4M124.1 391.1h1.4M133.8 381.2h1.4M107.7 393.0h1.4M108.6 388.9h1.4M121.8 393.4h1.4M118.4 390.4h1.4M116.5 393.7h1.4M115.5 393.6h1.4M117.9 389.2h1.4M101.7 391.1h1.4M136.8 391.7h1.4M117.4 395.6h1.4M118.3 388.3h1.4M126.4 384.4h1.4M118.6 393.8h1.4M122.1 385.6h1.4M124.8 389.9h1.4M125.3 383.0h1.4M123.7 393.8h1.4M127.6 390.9h1.4M127.8 388.2h1.4M121.0 386.5h1.4M124.0 380.8h1.4M116.6 391.0h1.4M125.9 392.1h1.4M111.3 392.8h1.4M110.6 387.8h1.4M115.0 393.9h1.4M123.9 391.3h1.4M116.3 386.0h1.4M118.2 385.3h1.4M129.2 386.1h1.4M131.9 393.0h1.4M135.7 386.3h1.4M128.3 395.4h1.4M125.3 394.2h1.4M124.3 384.5h1.4M113.2 390.9h1.4M121.8 401.6h1.4M120.0 390.8h1.4M128.1 392.0h1.4M124.5 391.3h1.4M114.3 390.7h1.4M118.7 388.5h1.4M124.5 391.1h1.4M121.9 392.0h1.4M116.4 393.3h1.4M126.7 392.6h1.4M107.5 389.0h1.4M124.5 387.0h1.4M114.6 394.2h1.4M110.2 392.8h1.4M118.1 384.6h1.4M128.3 386.3h1.4M109.3 400.3h1.4M119.1 389.7h1.4M120.2 389.8h1.4M117.1 392.4h1.4M117.3 392.8h1.4M119.3 386.2h1.4M121.5 388.2h1.4M130.3 394.4h1.4M101.0 390.3h1.4M121.9 390.6h1.4M126.3 394.6h1.4M107.9 392.2h1.4M124.5 389.8h1.4M126.8 386.7h1.4M117.2 388.6h1.4M121.8 394.2h1.4M115.9 393.3h1.4M111.4 392.9h1.4M116.2 389.6h1.4M115.3 396.9h1.4M126.5 395.7h1.4M115.6 391.9h1.4M124.7 387.2h1.4M126.2 386.1h1.4M128.3 397.1h1.4M120.3 399.3h1.4M123.6 388.0h1.4M114.6 392.2h1.4M113.0 385.0h1.4M131.2 386.3h1.4M127.5 396.0h1.4M113.0 394.4h1.4M114.0 394.4h1.4M132.0 387.8h1.4M122.2 386.9h1.4M128.3 388.4h1.4M130.5 392.9h1.4M119.1 392.1h1.4M126.5 391.9h1.4M112.0 394.1h1.4M119.8 388.2h1.4M125.7 390.2h1.4M129.8 386.1h1.4M120.2 387.1h1.4M123.9 391.7h1.4M114.3 387.1h1.4M126.5 394.7h1.4M111.0 392.8h1.4M117.6 386.5h1.4M119.1 388.8h1.4M113.6 387.9h1.4M115.9 394.5h1.4M117.9 392.9h1.4M126.7 389.8h1.4M124.5 395.6h1.4M122.4 390.5h1.4M122.6 389.4h1.4M122.8 387.1h1.4M113.4 387.6h1.4M117.7 392.3h1.4M118.5 393.6h1.4M125.3 389.6h1.4M122.2 391.3h1.4M123.9 390.3h1.4M111.9 397.6h1.4M131.0 389.7h1.4M115.6 395.2h1.4M113.2 391.1h1.4M120.2 387.7h1.4M121.9 385.1h1.4M118.6 387.2h1.4M130.2 390.5h1.4M116.1 387.8h1.4M116.6 394.8h1.4M110.7 390.6h1.4M129.0 382.9h1.4M117.4 391.5h1.4M117.2 389.3h1.4M107.2 398.8h1.4M114.0 393.8h1.4M116.2 387.7h1.4M122.5 390.4h1.4M126.2 384.8h1.4M127.6 384.2h1.4M114.7 391.1h1.4M121.3 392.1h1.4M130.4 387.3h1.4M124.3 393.7h1.4M125.7 383.5h1.4M129.0 391.0h1.4M123.9 390.7h1.4M120.8 385.4h1.4M137.8 389.3h1.4M110.0 391.0h1.4M121.9 394.2h1.4M125.0 384.5h1.4M121.2 392.6h1.4M120.5 389.5h1.4M117.7 396.0h1.4M128.1 397.9h1.4M108.0 391.0h1.4M112.5 390.7h1.4M110.7 391.6h1.4M115.5 390.9h1.4M116.5 394.4h1.4M122.8 388.2h1.4M127.2 386.9h1.4M114.5 391.1h1.4M120.6 390.4h1.4M134.8 393.1h1.4M125.8 387.8h1.4M109.3 390.1h1.4M125.5 391.6h1.4M121.0 392.1h1.4M120.7 386.9h1.4M122.9 388.8h1.4M126.2 384.9h1.4M122.4 392.6h1.4M127.4 386.5h1.4M122.9 387.7h1.4M126.6 388.0h1.4M124.3 386.7h1.4M114.4 391.4h1.4M110.0 394.8h1.4M133.5 389.3h1.4M114.4 398.4h1.4M112.8 391.9h1.4M127.6 383.6h1.4M128.1 389.0h1.4M119.1 388.5h1.4M129.3 392.1h1.4M116.7 390.2h1.4M117.7 391.9h1.4M110.8 387.1h1.4M134.6 385.8h1.4M121.2 390.7h1.4M125.4 388.4h1.4M109.3 392.0h1.4M123.9 395.3h1.4M107.9 388.0h1.4M115.8 386.9h1.4M125.2 394.0h1.4M130.5 389.5h1.4M131.7 386.3h1.4M120.3 391.6h1.4M111.5 394.8h1.4M123.2 387.5h1.4M117.5 393.9h1.4M125.7 389.1h1.4M124.0 394.5h1.4M132.8 381.1h1.4M125.1 395.9h1.4M119.7 390.1h1.4M123.9 393.8h1.4M118.6 388.7h1.4M117.4 392.5h1.4M116.6 394.7h1.4M119.0 391.0h1.4M116.3 389.7h1.4M120.9 387.9h1.4M110.2 389.6h1.4M117.3 393.6h1.4M124.6 386.6h1.4M115.1 393.6h1.4M113.4 391.6h1.4M133.0 387.8h1.4M116.8 388.6h1.4M132.7 387.0h1.4M120.0 383.7h1.4M124.0 392.0h1.4M126.6 387.9h1.4M116.0 395.2h1.4M115.0 388.6h1.4M121.0 387.6h1.4M120.0 390.3h1.4M125.7 388.3h1.4M117.1 387.0h1.4M115.8 384.3h1.4M122.1 387.3h1.4M115.3 389.1h1.4M114.0 393.7h1.4M122.4 392.6h1.4M117.6 387.4h1.4M111.1 394.4h1.4M126.4 386.1h1.4M118.8 388.3h1.4M104.7 391.3h1.4M115.0 388.2h1.4M127.3 391.9h1.4M120.3 395.6h1.4M115.5 387.7h1.4M121.8 391.5h1.4M115.6 391.1h1.4M117.7 392.4h1.4M122.9 388.1h1.4M113.5 395.6h1.4M132.8 390.8h1.4M102.1 395.0h1.4M109.3 399.0h1.4M126.4 387.2h1.4M122.5 390.0h1.4M133.3 390.9h1.4M124.8 393.2h1.4M128.1 389.6h1.4M125.0 392.0h1.4M118.9 395.6h1.4M107.7 391.8h1.4M118.3 389.9h1.4M123.3 390.3h1.4M122.0 382.0h1.4M113.9 393.4h1.4M126.9 391.3h1.4M117.4 397.6h1.4M113.4 386.9h1.4M120.8 391.5h1.4M119.9 392.0h1.4M112.1 394.1h1.4M113.5 387.5h1.4M121.5 380.0h1.4M132.6 388.8h1.4M102.9 394.0h1.4M103.5 393.9h1.4M115.3 389.0h1.4M117.2 388.1h1.4M125.8 389.3h1.4M108.9 389.0h1.4M122.2 387.0h1.4M122.6 391.0h1.4M126.6 391.4h1.4M115.9 387.4h1.4M114.7 385.2h1.4M118.6 387.3h1.4M116.7 393.3h1.4M116.8 389.9h1.4M116.9 393.3h1.4M125.4 391.8h1.4M118.6 394.6h1.4M119.0 389.5h1.4M124.6 390.2h1.4M118.6 393.6h1.4M122.1 388.8h1.4M110.2 388.7h1.4M121.1 394.0h1.4M120.8 395.4h1.4M116.1 388.2h1.4M116.7 392.8h1.4M114.7 392.8h1.4M128.6 390.0h1.4M119.6 389.3h1.4M115.6 388.4h1.4M116.0 387.1h1.4M113.8 394.7h1.4M121.9 390.2h1.4M121.4 392.2h1.4M114.8 385.2h1.4M115.3 394.5h1.4M122.2 393.4h1.4M112.4 392.6h1.4M130.4 395.8h1.4M121.2 391.0h1.4M116.6 391.6h1.4M122.0 387.1h1.4M107.7 390.2h1.4M124.1 391.5h1.4M116.1 392.2h1.4M126.9 393.4h1.4M126.4 387.6h1.4M114.8 392.9h1.4M130.4 385.9h1.4M118.2 390.2h1.4M118.3 388.6h1.4M127.6 381.9h1.4M126.9 392.1h1.4M116.0 388.0h1.4M121.5 387.3h1.4M116.2 391.5h1.4M113.9 387.5h1.4M115.6 387.9h1.4M122.9 381.4h1.4M107.8 392.2h1.4M121.9 392.3h1.4M114.7 389.7h1.4M118.3 394.4h1.4M128.7 394.0h1.4M123.2 392.2h1.4M117.6 389.7h1.4M132.5 391.0h1.4M109.3 394.5h1.4M120.5 390.8h1.4M126.7 393.2h1.4M111.0 393.2h1.4M123.4 385.9h1.4M118.4 389.8h1.4M131.4 389.0h1.4M126.2 385.4h1.4M124.0 385.0h1.4M109.8 392.2h1.4M118.2 392.3h1.4M131.6 385.3h1.4M125.7 391.2h1.4M115.2 387.9h1.4M118.7 386.5h1.4M107.8 395.2h1.4M120.9 390.7h1.4M113.2 385.3h1.4M110.2 386.4h1.4M113.2 391.6h1.4M125.4 386.6h1.4M109.4 389.1h1.4M100.5 388.6h1.4M134.8 387.2h1.4M116.9 398.5h1.4M116.8 385.3h1.4M112.0 397.1h1.4M128.0 386.2h1.4M124.7 385.6h1.4M125.2 392.4h1.4M123.3 389.0h1.4M126.3 388.4h1.4M123.0 393.6h1.4M118.8 397.1h1.4M127.0 390.5h1.4M121.7 386.5h1.4M116.2 387.2h1.4M122.5 389.5h1.4M106.7 395.6h1.4M121.0 391.5h1.4M115.3 391.9h1.4M109.6 395.6h1.4M124.0 382.3h1.4M133.8 391.2h1.4M128.7 389.2h1.4M124.2 389.7h1.4M114.7 392.5h1.4M110.2 390.8h1.4M117.6 387.0h1.4M115.3 384.3h1.4M121.6 391.2h1.4M132.0 384.4h1.4M125.8 389.1h1.4M122.6 384.2h1.4M122.8 389.8h1.4M109.4 393.5h1.4M125.1 388.3h1.4M121.4 391.5h1.4M115.0 388.6h1.4M119.6 388.8h1.4M118.7 391.2h1.4M124.3 389.7h1.4M116.7 392.5h1.4M127.9 389.6h1.4M120.4 393.6h1.4M116.7 396.4h1.4M129.9 391.1h1.4M119.0 393.8h1.4M120.1 391.7h1.4M112.8 388.0h1.4M128.3 392.1h1.4M119.9 393.4h1.4M124.0 386.2h1.4M118.2 390.2h1.4M122.1 385.0h1.4M111.2 392.9h1.4M117.0 395.9h1.4M111.3 392.3h1.4M117.9 388.5h1.4M125.2 393.3h1.4M116.5 392.8h1.4M119.5 391.2h1.4M121.4 393.1h1.4M131.7 388.0h1.4M125.7 393.3h1.4M108.7 385.2h1.4M129.4 390.9h1.4M108.3 389.5h1.4M109.7 393.3h1.4M121.5 387.6h1.4M130.9 383.4h1.4M114.5 393.0h1.4M111.6 387.2h1.4M117.7 382.7h1.4M121.1 389.5h1.4M129.4 393.5h1.4M120.5 396.3h1.4M117.2 396.0h1.4M117.0 384.5h1.4M120.9 390.1h1.4M123.2 386.7h1.4M113.0 392.1h1.4M118.6 384.3h1.4M125.1 391.8h1.4M135.3 388.8h1.4M123.2 394.2h1.4M104.4 396.8h1.4M115.8 391.4h1.4M122.7 384.6h1.4M117.5 392.7h1.4M128.0 387.0h1.4M118.0 390.9h1.4M123.6 393.8h1.4M123.2 383.5h1.4M116.7 390.0h1.4M116.2 387.7h1.4M117.4 391.5h1.4M112.3 393.1h1.4M120.1 391.5h1.4M115.1 392.5h1.4M119.8 387.7h1.4M112.4 389.5h1.4M131.0 388.5h1.4M123.5 390.5h1.4M129.4 388.6h1.4M115.4 387.9h1.4M117.3 389.7h1.4M123.2 390.5h1.4M122.3 386.2h1.4M122.0 387.0h1.4M125.5 391.2h1.4M123.4 397.5h1.4M127.9 389.8h1.4M116.2 387.2h1.4M126.9 394.7h1.4M95.5 395.9h1.4M122.1 386.6h1.4M118.1 391.7h1.4M116.5 392.3h1.4M119.8 393.9h1.4M119.2 387.4h1.4M122.5 393.6h1.4M112.8 390.2h1.4M115.7 392.0h1.4M122.5 386.0h1.4M116.3 395.1h1.4M116.9 391.6h1.4M123.5 386.9h1.4M121.3 391.7h1.4M116.0 393.4h1.4M114.4 394.4h1.4M123.6 392.7h1.4M125.2 383.3h1.4M124.2 386.1h1.4M123.5 389.6h1.4M117.9 391.3h1.4M114.2 387.1h1.4M119.4 394.1h1.4M118.8 392.1h1.4M115.5 385.0h1.4M121.5 386.0h1.4M139.8 391.3h1.4M116.3 384.8h1.4M117.4 397.7h1.4M124.7 395.1h1.4M114.8 386.9h1.4M116.9 392.1h1.4M116.8 394.3h1.4M119.4 385.7h1.4M125.5 383.1h1.4M123.5 394.8h1.4M109.9 390.9h1.4M117.6 384.8h1.4M112.9 394.9h1.4M122.0 393.5h1.4M116.4 392.2h1.4M127.2 388.8h1.4M133.1 384.9h1.4M117.7 384.8h1.4M121.1 392.5h1.4M125.1 391.0h1.4M115.0 385.9h1.4M109.7 388.5h1.4M123.1 386.8h1.4M121.9 388.2h1.4M106.8 391.7h1.4M119.1 395.1h1.4M116.2 390.8h1.4M115.2 394.5h1.4M119.8 390.4h1.4M109.7 394.9h1.4M110.0 391.1h1.4M128.2 392.0h1.4M123.9 387.0h1.4M119.0 384.4h1.4M120.3 393.6h1.4M121.7 385.5h1.4M119.9 386.2h1.4M135.8 392.7h1.4M115.7 389.6h1.4M123.8 389.8h1.4M111.8 392.2h1.4M123.9 391.2h1.4M131.8 391.7h1.4M119.3 389.3h1.4M114.4 387.7h1.4M108.5 395.1h1.4M127.4 388.6h1.4M115.0 389.1h1.4M121.2 392.1h1.4M124.5 391.8h1.4M113.2 391.8h1.4M120.2 383.0h1.4M129.0 395.8h1.4M114.0 390.8h1.4M117.8 385.6h1.4M120.0 392.0h1.4M108.7 396.2h1.4M116.8 394.6h1.4M126.0 390.6h1.4M133.7 389.7h1.4M113.4 385.0h1.4M120.3 380.8h1.4M122.3 394.0h1.4M117.9 391.2h1.4M115.7 391.5h1.4M118.4 385.1h1.4M116.8 396.3h1.4M114.1 388.9h1.4M118.2 393.1h1.4M118.9 385.4h1.4M104.3 385.1h1.4M120.8 390.7h1.4M118.5 392.1h1.4M120.3 386.2h1.4M106.1 400.4h1.4M133.5 386.3h1.4M119.9 394.8h1.4M108.7 395.6h1.4M127.3 384.2h1.4M124.2 391.1h1.4M116.1 387.8h1.4M128.4 389.6h1.4M123.7 389.2h1.4M113.0 394.6h1.4M115.3 388.4h1.4M122.8 391.7h1.4M131.3 391.1h1.4M116.9 394.5h1.4M129.6 386.1h1.4M121.1 392.5h1.4M115.0 393.6h1.4M129.1 392.6h1.4M113.7 383.2h1.4M118.6 383.9h1.4M122.5 391.3h1.4M131.2 373.9h1.4M126.6 377.8h1.4M131.7 392.2h1.4M132.8 383.6h1.4M140.8 366.8h1.4M139.9 379.6h1.4M131.3 389.7h1.4M133.3 394.0h1.4M123.6 383.1h1.4M130.6 385.8h1.4M133.0 377.2h1.4M131.2 372.0h1.4M146.2 368.0h1.4M119.0 391.1h1.4M130.6 380.6h1.4M134.2 380.5h1.4M139.4 375.5h1.4M136.5 382.4h1.4M123.9 404.5h1.4M128.3 389.9h1.4M137.2 387.7h1.4M135.0 396.0h1.4M141.1 368.2h1.4M137.8 371.4h1.4M133.0 377.2h1.4M132.2 374.2h1.4M138.6 387.4h1.4M130.1 376.2h1.4M132.7 378.4h1.4M141.3 384.9h1.4M131.7 377.7h1.4M137.1 382.4h1.4M118.7 397.6h1.4M129.5 380.4h1.4M134.4 390.8h1.4M137.6 385.1h1.4M133.4 385.9h1.4M134.7 381.1h1.4M129.2 378.5h1.4M133.9 396.5h1.4M139.0 375.5h1.4M128.6 383.9h1.4M126.0 386.5h1.4M140.4 377.5h1.4M145.4 379.8h1.4M142.9 371.7h1.4M130.4 384.5h1.4M132.8 390.2h1.4M131.8 376.2h1.4M137.8 380.1h1.4M139.3 370.4h1.4M130.0 383.9h1.4M138.2 381.7h1.4M136.8 374.9h1.4M143.4 390.4h1.4M133.6 372.6h1.4M136.5 389.4h1.4M123.9 387.5h1.4M131.9 386.1h1.4M138.4 372.9h1.4M126.8 391.2h1.4M129.5 388.3h1.4M134.2 370.6h1.4M132.4 382.3h1.4M128.9 383.9h1.4M131.1 390.3h1.4M137.7 371.5h1.4M143.1 382.4h1.4M140.1 381.2h1.4M136.4 392.0h1.4M142.8 367.7h1.4M125.3 394.7h1.4M141.5 358.8h1.4M135.1 372.5h1.4M134.0 380.2h1.4M130.7 376.1h1.4M134.5 387.5h1.4M137.3 376.9h1.4M130.6 385.1h1.4M128.9 385.2h1.4M137.2 385.5h1.4M143.9 371.5h1.4M141.5 385.3h1.4M141.4 376.7h1.4M130.6 387.6h1.4M131.7 388.2h1.4M132.3 387.2h1.4M146.1 369.6h1.4M131.9 379.8h1.4M141.8 373.6h1.4M139.6 380.9h1.4M129.6 386.6h1.4M137.4 364.9h1.4M143.0 362.3h1.4M138.9 385.0h1.4M136.4 372.9h1.4M141.4 381.3h1.4M126.3 381.4h1.4M131.8 386.6h1.4M135.1 383.8h1.4M139.2 371.8h1.4M142.3 385.9h1.4M131.1 392.7h1.4M135.2 385.7h1.4M142.2 364.6h1.4M141.8 372.5h1.4M131.1 387.7h1.4M129.3 392.1h1.4M132.7 377.4h1.4M137.0 362.3h1.4M120.3 383.4h1.4M143.3 381.6h1.4M133.6 377.0h1.4M141.1 388.6h1.4M143.7 374.3h1.4M132.3 395.1h1.4M126.0 379.1h1.4M124.6 387.8h1.4M144.8 381.5h1.4M130.8 378.0h1.4M134.6 406.8h1.4M126.5 395.8h1.4M131.6 380.9h1.4M136.4 384.6h1.4M137.9 377.8h1.4M134.7 380.7h1.4M128.6 395.2h1.4M133.4 384.2h1.4M133.1 395.2h1.4M142.1 377.3h1.4M131.2 390.6h1.4M127.2 391.0h1.4M137.2 389.1h1.4M129.3 383.1h1.4M142.6 380.6h1.4M142.7 380.3h1.4M132.5 373.1h1.4M132.4 389.4h1.4M138.7 382.0h1.4M124.9 382.3h1.4M141.0 383.3h1.4M142.7 384.0h1.4M136.2 378.2h1.4M135.4 385.2h1.4M131.0 394.4h1.4M129.7 387.7h1.4M137.1 381.2h1.4M136.7 379.7h1.4M131.3 377.4h1.4M140.9 385.8h1.4M132.7 382.4h1.4M140.7 371.9h1.4M128.9 364.8h1.4M136.9 380.7h1.4M138.6 375.0h1.4M140.9 376.8h1.4M133.1 383.1h1.4M135.2 380.2h1.4M135.6 384.5h1.4M141.6 385.0h1.4M129.6 382.0h1.4M133.6 384.9h1.4M124.2 384.5h1.4M144.8 381.7h1.4M136.1 379.6h1.4M132.9 381.3h1.4M134.2 384.5h1.4M139.6 379.3h1.4M133.0 378.8h1.4M142.0 359.7h1.4M144.1 365.5h1.4M140.6 359.8h1.4M138.4 370.9h1.4M146.2 367.0h1.4M141.3 365.9h1.4M137.1 373.7h1.4M136.8 361.9h1.4M140.0 361.8h1.4M146.1 364.2h1.4M146.4 366.6h1.4M144.1 358.8h1.4M135.5 371.2h1.4M139.3 370.1h1.4M146.8 362.2h1.4M144.7 361.2h1.4M142.1 359.4h1.4M144.6 374.0h1.4M139.8 357.9h1.4M142.6 377.5h1.4M143.2 360.2h1.4M137.4 352.4h1.4M145.6 367.9h1.4M139.4 365.9h1.4M144.0 358.7h1.4M136.7 364.4h1.4M147.5 359.3h1.4M138.6 354.6h1.4M144.2 353.7h1.4M136.9 376.1h1.4M149.5 365.1h1.4M135.2 364.5h1.4M139.6 377.6h1.4M138.8 360.3h1.4M148.7 379.0h1.4M136.4 359.4h1.4M142.7 365.8h1.4M145.9 364.0h1.4M142.4 376.3h1.4M135.5 342.3h1.4M135.0 342.0h1.4M135.6 347.9h1.4M136.8 348.2h1.4M137.2 345.9h1.4M130.6 344.6h1.4M131.0 344.3h1.4M134.0 347.5h1.4M96.1 388.2h1.4M89.9 393.9h1.4M92.2 389.1h1.4M90.7 394.3h1.4M90.1 391.4h1.4M93.3 389.7h1.4M86.3 397.1h1.4M89.3 395.2h1.4M91.9 393.1h1.4M91.2 388.3h1.4M86.2 389.9h1.4M96.1 392.7h1.4M98.1 389.4h1.4M89.1 389.1h1.4M93.7 392.3h1.4M92.3 391.9h1.4M91.2 387.1h1.4M87.0 393.5h1.4M93.1 391.1h1.4M92.0 397.1h1.4M189.0 315.0h1.4" stroke="#000" stroke-width="1.4" fill="none"/>
<path d="M281.3 342.9h1.4M280.8 345.8h1.4M277.6 345.8h1.4M284.9 344.3h1.4M279.6 352.7h1.4M282.1 346.1h1.4M287.3 356.9h1.4M289.1 352.5h1.4M282.9 348.7h1.4M280.0 348.4h1.4M280.8 352.3h1.4M275.9 361.4h1.4M288.9 349.9h1.4M284.9 343.6h1.4M274.4 350.0h1.4M275.0 366.5h1.4M278.0 344.7h1.4M290.2 346.2h1.4M273.9 350.1h1.4M281.0 346.2h1.4M282.3 355.4h1.4M275.6 346.4h1.4M279.8 348.6h1.4M289.7 350.3h1.4M287.8 350.8h1.4M273.6 348.7h1.4M283.7 349.3h1.4M281.4 348.5h1.4M287.5 331.0h1.4M274.8 353.4h1.4M281.9 349.8h1.4M285.2 347.6h1.4M275.4 354.2h1.4M281.2 340.0h1.4M281.1 355.2h1.4M283.7 345.7h1.4M278.1 344.5h1.4M295.7 341.8h1.4M285.0 350.2h1.4M275.7 346.5h1.4M277.1 353.1h1.4M275.5 342.6h1.4M282.0 354.8h1.4M281.8 347.8h1.4M285.4 357.4h1.4M283.2 350.7h1.4M277.8 347.3h1.4M279.0 347.9h1.4M284.7 339.0h1.4M285.5 347.1h1.4M274.4 343.6h1.4M278.7 345.9h1.4M286.0 358.9h1.4M278.1 344.0h1.4M282.1 351.6h1.4M276.8 352.1h1.4M287.7 346.5h1.4M279.8 348.5h1.4M279.0 345.9h1.4M284.0 357.6h1.4M280.8 351.8h1.4M283.1 353.8h1.4M288.4 339.1h1.4M281.6 348.0h1.4M282.2 343.3h1.4M290.0 353.2h1.4M280.9 347.5h1.4M280.7 345.1h1.4M286.8 348.6h1.4M275.1 350.5h1.4M288.3 347.5h1.4M281.0 356.9h1.4M278.2 354.2h1.4M279.3 350.2h1.4M277.8 352.4h1.4M285.6 346.5h1.4M278.5 342.3h1.4M270.3 350.3h1.4M278.0 337.5h1.4M285.3 353.0h1.4M280.2 346.9h1.4M278.0 339.8h1.4M275.6 350.3h1.4M287.7 361.4h1.4M278.3 345.9h1.4M284.7 347.7h1.4M270.5 352.8h1.4M279.8 343.2h1.4M276.6 357.2h1.4M279.9 347.2h1.4M282.2 350.5h1.4M279.1 353.5h1.4M283.5 348.1h1.4M287.5 351.7h1.4M282.0 341.0h1.4M275.1 342.8h1.4M286.8 349.2h1.4M277.6 346.0h1.4M281.3 345.8h1.4M287.3 348.2h1.4M282.1 352.0h1.4M280.6 355.7h1.4M280.3 358.8h1.4M274.7 357.1h1.4M279.1 354.2h1.4M274.7 345.8h1.4M283.8 344.4h1.4M278.9 343.3h1.4M281.4 347.1h1.4M287.2 349.7h1.4M285.9 358.7h1.4M283.1 345.4h1.4M286.0 351.9h1.4M285.4 346.1h1.4M281.4 349.0h1.4M284.9 339.9h1.4M289.0 360.5h1.4M280.0 350.7h1.4M282.9 349.1h1.4M272.8 350.8h1.4M276.9 342.8h1.4M282.1 353.7h1.4M279.2 351.6h1.4M282.7 353.8h1.4M279.9 357.8h1.4M280.5 353.7h1.4M281.2 347.1h1.4M278.1 348.5h1.4M285.2 341.8h1.4M277.5 362.0h1.4M281.7 342.5h1.4M288.4 354.9h1.4M282.2 345.0h1.4M278.1 351.4h1.4M278.7 349.9h1.4M284.6 344.3h1.4M285.2 353.8h1.4M277.7 353.9h1.4M278.1 350.8h1.4M292.4 352.6h1.4M276.9 359.2h1.4M289.8 342.8h1.4M282.5 347.0h1.4M278.0 343.3h1.4M280.2 345.9h1.4M279.5 348.4h1.4M279.5 348.4h1.4M283.5 349.6h1.4M272.2 359.1h1.4M287.3 353.2h1.4M284.0 347.2h1.4M277.1 352.9h1.4M272.9 347.8h1.4M290.7 353.2h1.4M272.8 348.5h1.4M283.1 348.5h1.4M284.5 342.0h1.4M274.9 347.7h1.4M288.0 358.5h1.4M273.0 337.7h1.4M271.7 350.1h1.4M274.5 347.0h1.4M276.9 347.1h1.4M289.1 354.5h1.4M274.7 346.2h1.4M291.8 339.9h1.4M282.4 347.9h1.4M286.9 347.6h1.4M284.3 351.9h1.4M277.3 356.6h1.4M279.8 352.9h1.4M283.9 353.0h1.4M283.7 345.4h1.4M292.4 343.1h1.4M276.4 351.1h1.4M274.0 352.7h1.4M274.7 354.0h1.4M274.1 352.6h1.4M280.4 346.3h1.4M283.2 345.2h1.4M292.1 353.6h1.4M282.0 353.3h1.4M278.0 340.0h1.4M282.2 351.4h1.4M292.4 349.6h1.4M278.6 345.2h1.4M276.6 343.3h1.4M284.1 352.8h1.4M285.4 350.6h1.4M285.5 341.5h1.4M284.9 348.2h1.4M287.0 354.2h1.4M291.5 345.4h1.4M291.7 356.0h1.4M287.2 341.3h1.4M283.6 355.2h1.4M277.0 348.4h1.4M278.0 344.6h1.4M273.9 348.4h1.4M278.3 353.7h1.4M282.3 342.3h1.4M286.1 354.0h1.4M274.9 353.3h1.4M289.0 336.0h1.4M280.4 350.5h1.4M271.2 356.5h1.4M283.3 345.0h1.4M276.3 336.3h1.4M276.6 353.7h1.4M281.0 354.3h1.4M275.3 357.5h1.4M281.7 344.0h1.4M282.4 343.4h1.4M287.6 345.2h1.4M276.2 356.1h1.4M274.7 344.9h1.4M295.6 347.3h1.4M278.0 340.9h1.4M288.8 355.4h1.4M280.7 348.9h1.4M279.4 349.8h1.4M293.3 364.6h1.4M286.2 353.6h1.4M279.1 352.2h1.4M280.1 349.2h1.4M285.5 347.4h1.4M280.6 341.4h1.4M284.5 353.1h1.4M279.7 348.1h1.4M280.7 348.1h1.4M283.0 340.7h1.4M280.6 355.5h1.4M274.0 350.8h1.4M282.1 349.8h1.4M276.1 347.2h1.4M279.4 352.2h1.4M279.0 353.9h1.4M275.7 352.9h1.4M292.0 342.1h1.4M273.2 341.2h1.4M288.0 347.5h1.4M274.6 352.4h1.4M278.8 336.6h1.4M286.3 343.5h1.4M281.6 346.2h1.4M282.6 349.0h1.4M292.0 353.2h1.4M285.1 346.3h1.4M288.4 352.6h1.4M282.6 347.1h1.4M281.9 353.8h1.4M281.7 345.6h1.4M290.5 347.6h1.4M264.2 355.8h1.4M283.7 348.6h1.4M284.3 336.2h1.4M272.2 348.5h1.4M282.8 351.0h1.4M280.2 349.2h1.4M276.2 344.0h1.4M282.6 346.0h1.4M275.2 353.3h1.4M289.6 352.3h1.4M274.4 352.2h1.4M274.9 346.1h1.4M279.0 344.4h1.4M281.3 359.8h1.4M285.0 342.6h1.4M283.1 354.7h1.4M281.8 349.4h1.4M267.2 353.7h1.4M279.0 351.1h1.4M280.9 347.6h1.4M286.6 351.4h1.4M275.7 344.8h1.4M283.6 346.7h1.4M279.2 350.1h1.4M277.0 336.1h1.4M281.3 355.8h1.4M280.2 348.1h1.4M282.1 347.2h1.4M281.0 343.4h1.4M286.3 347.0h1.4M285.9 340.8h1.4M275.6 344.1h1.4M289.8 343.9h1.4M289.0 347.6h1.4M286.2 347.6h1.4M282.5 344.9h1.4M292.1 344.5h1.4M279.5 351.8h1.4M282.9 344.6h1.4M276.3 357.0h1.4M282.6 351.7h1.4M288.1 344.4h1.4M279.2 342.0h1.4M286.0 348.5h1.4M276.4 354.6h1.4M284.4 348.8h1.4M290.7 347.8h1.4M280.3 341.2h1.4M281.1 352.7h1.4M287.7 342.1h1.4M287.2 355.7h1.4M281.3 348.8h1.4M282.9 356.7h1.4M281.8 352.0h1.4M286.9 337.9h1.4M285.2 347.6h1.4M283.2 351.4h1.4M277.6 356.4h1.4M273.4 349.0h1.4M271.3 352.6h1.4M283.9 339.8h1.4M298.4 347.3h1.4M285.0 347.1h1.4M286.7 351.1h1.4M281.3 348.2h1.4M283.9 347.2h1.4M275.9 348.8h1.4M282.2 351.8h1.4M275.1 356.8h1.4M284.9 352.9h1.4M274.8 355.3h1.4M287.3 342.9h1.4M281.7 341.5h1.4M285.5 342.7h1.4M284.0 343.0h1.4M274.0 352.5h1.4M274.7 349.0h1.4M287.6 346.5h1.4M284.1 360.0h1.4M286.3 346.8h1.4M293.3 351.8h1.4M285.7 348.5h1.4M290.8 342.0h1.4M281.0 340.4h1.4M278.3 346.2h1.4M282.9 350.8h1.4M282.5 351.4h1.4M283.6 355.0h1.4M286.3 350.9h1.4M286.6 357.7h1.4M289.0 344.3h1.4M279.7 345.6h1.4M278.3 353.4h1.4M284.4 347.8h1.4M286.4 353.8h1.4M283.6 356.9h1.4M283.5 350.7h1.4M292.3 345.8h1.4M284.7 336.0h1.4M276.2 348.5h1.4M279.1 350.9h1.4M291.0 340.9h1.4M286.6 350.6h1.4M274.1 351.4h1.4M276.9 350.7h1.4M283.9 353.5h1.4M279.9 357.2h1.4M284.5 343.5h1.4M275.9 349.1h1.4M281.6 350.7h1.4M283.4 356.9h1.4M285.2 349.1h1.4M282.3 352.3h1.4M281.5 349.8h1.4M281.3 350.3h1.4M284.8 350.0h1.4M285.5 354.5h1.4M278.0 352.4h1.4M277.6 354.5h1.4M282.4 349.7h1.4M275.8 348.6h1.4M280.3 349.0h1.4M294.8 352.4h1.4M284.4 349.3h1.4M279.1 341.7h1.4M278.9 351.9h1.4M277.9 343.7h1.4M275.8 338.5h1.4M280.1 348.7h1.4M285.7 357.1h1.4M286.8 352.6h1.4M286.0 351.5h1.4M270.8 346.3h1.4M283.0 343.2h1.4M277.4 344.2h1.4M282.4 346.8h1.4M281.1 345.2h1.4M279.6 349.6h1.4M274.7 351.0h1.4M280.9 344.4h1.4M281.3 351.5h1.4M284.1 337.4h1.4M281.8 345.8h1.4M276.5 346.7h1.4M289.7 343.9h1.4M290.5 346.5h1.4M279.8 347.9h1.4M274.3 351.1h1.4M294.2 349.1h1.4M290.5 338.8h1.4M285.7 352.8h1.4M272.9 352.2h1.4M291.0 353.9h1.4M287.6 355.4h1.4M278.1 358.3h1.4M268.3 357.3h1.4M289.5 347.9h1.4M278.2 356.9h1.4M282.3 349.1h1.4M285.4 346.8h1.4M287.9 348.7h1.4M280.5 358.5h1.4M285.3 354.0h1.4M283.4 349.8h1.4M280.9 349.4h1.4M284.8 344.3h1.4M280.6 354.0h1.4M280.6 331.0h1.4M280.9 349.8h1.4M273.1 348.6h1.4M278.1 346.5h1.4M275.4 354.3h1.4M285.4 347.1h1.4M273.1 357.9h1.4M292.2 341.3h1.4M282.5 359.7h1.4M281.4 346.2h1.4M274.5 353.7h1.4M278.7 346.6h1.4M290.6 344.9h1.4M281.8 349.2h1.4M272.7 354.0h1.4M286.2 345.8h1.4M290.6 344.2h1.4M278.9 346.7h1.4M281.2 342.4h1.4M290.0 341.4h1.4M268.1 351.7h1.4M288.3 352.3h1.4M277.9 353.5h1.4M283.8 348.3h1.4M288.3 349.0h1.4M286.1 335.6h1.4M284.5 344.3h1.4M288.7 345.7h1.4M278.0 351.5h1.4M282.6 350.9h1.4M277.4 348.9h1.4M283.5 348.8h1.4M278.9 360.3h1.4M276.4 345.3h1.4M276.4 350.0h1.4M286.8 345.9h1.4M271.8 346.9h1.4M274.0 348.3h1.4M271.1 351.1h1.4M274.5 346.1h1.4M271.0 359.8h1.4M273.9 349.1h1.4M274.5 349.0h1.4M289.6 355.7h1.4M281.5 356.7h1.4M276.6 356.2h1.4M270.4 356.2h1.4M276.8 340.2h1.4M288.5 345.3h1.4M278.7 347.9h1.4M285.7 344.5h1.4M282.8 356.2h1.4M281.2 353.8h1.4M279.4 344.8h1.4M280.1 342.1h1.4M278.9 341.2h1.4M277.0 343.1h1.4M281.2 349.6h1.4M286.6 351.2h1.4M284.0 345.6h1.4M272.5 357.6h1.4M284.2 347.3h1.4M283.1 350.6h1.4M277.9 343.5h1.4M285.8 346.7h1.4M284.4 341.9h1.4M291.3 347.6h1.4M269.2 354.6h1.4M285.1 347.3h1.4M275.0 349.0h1.4M281.8 354.7h1.4M283.9 346.3h1.4M289.2 353.4h1.4M282.2 350.4h1.4M276.6 346.2h1.4M285.5 343.9h1.4M283.9 349.6h1.4M287.5 352.8h1.4M266.3 349.9h1.4M281.4 342.4h1.4M264.6 348.5h1.4M282.5 353.5h1.4M280.9 350.6h1.4M276.5 348.4h1.4M283.4 348.3h1.4M282.2 358.8h1.4M287.0 334.8h1.4M289.0 341.4h1.4M281.7 354.3h1.4M280.0 352.4h1.4M276.9 351.6h1.4M288.0 343.9h1.4M280.8 353.6h1.4M280.0 345.1h1.4M284.7 345.5h1.4M277.9 344.8h1.4M279.9 351.9h1.4M281.2 342.7h1.4M286.6 351.0h1.4M275.4 346.9h1.4M286.8 352.0h1.4M276.6 356.7h1.4M295.8 360.4h1.4M278.0 348.3h1.4M279.6 339.2h1.4M275.7 347.7h1.4M275.4 362.2h1.4M280.1 351.4h1.4M282.1 347.5h1.4M266.0 352.7h1.4M274.0 335.9h1.4M281.6 350.3h1.4M273.5 343.2h1.4M280.2 364.8h1.4M288.2 340.3h1.4M288.8 339.7h1.4M291.9 342.3h1.4M285.8 355.1h1.4M293.4 337.2h1.4M265.9 356.1h1.4M274.9 343.8h1.4M271.8 374.2h1.4M275.2 360.0h1.4M287.4 347.7h1.4M279.9 348.5h1.4M262.8 359.2h1.4M297.9 333.0h1.4M288.8 350.1h1.4M281.3 364.0h1.4M276.2 339.3h1.4M272.0 342.2h1.4M270.4 342.6h1.4M269.8 356.2h1.4M286.9 343.9h1.4M266.4 356.4h1.4M286.3 360.5h1.4M292.1 350.8h1.4M280.0 347.9h1.4M291.7 357.5h1.4M287.1 337.3h1.4M280.8 346.2h1.4M280.5 358.1h1.4M296.5 345.8h1.4M297.3 363.3h1.4M269.3 340.8h1.4M282.1 341.5h1.4M266.3 355.2h1.4M277.3 352.5h1.4M292.4 355.7h1.4M282.8 354.0h1.4M274.4 359.2h1.4M288.0 354.3h1.4M287.4 339.3h1.4M286.7 346.7h1.4M289.9 343.9h1.4M283.5 368.2h1.4M283.4 351.2h1.4M285.7 358.6h1.4M287.0 347.5h1.4M303.5 346.4h1.4M271.1 358.8h1.4M272.2 347.2h1.4M272.3 348.1h1.4M263.9 359.8h1.4M271.5 357.8h1.4M269.6 363.9h1.4M287.3 344.5h1.4M289.0 355.8h1.4M267.4 363.9h1.4M279.1 348.3h1.4M267.8 348.4h1.4M273.3 347.1h1.4M281.9 354.0h1.4M277.5 334.3h1.4M277.7 364.1h1.4M292.8 329.1h1.4M284.1 342.5h1.4M273.0 349.3h1.4M272.3 353.0h1.4M266.2 348.9h1.4M278.6 339.1h1.4M292.1 343.8h1.4M289.7 362.3h1.4M277.4 350.3h1.4M269.8 362.6h1.4M274.9 344.0h1.4M266.3 359.5h1.4M256.6 372.3h1.4M256.4 360.1h1.4M280.9 341.9h1.4M272.5 363.2h1.4M265.2 366.7h1.4M286.5 358.6h1.4M286.3 346.5h1.4M292.2 346.4h1.4M280.1 348.0h1.4M273.3 348.8h1.4M286.3 328.7h1.4M269.6 359.5h1.4M276.2 351.4h1.4M290.2 333.9h1.4M269.3 359.8h1.4M280.4 336.7h1.4M276.1 356.1h1.4M268.1 360.7h1.4M295.4 358.6h1.4M268.4 341.3h1.4M273.1 351.5h1.4M278.6 355.2h1.4M289.4 340.4h1.4M283.3 356.7h1.4M272.7 348.4h1.4M271.9 363.2h1.4M286.4 350.4h1.4M279.0 360.0h1.4M278.2 356.3h1.4M280.1 345.6h1.4M282.5 352.6h1.4M277.6 356.1h1.4M291.4 351.0h1.4M298.7 354.1h1.4M272.1 357.8h1.4M276.6 360.8h1.4M287.3 343.1h1.4M283.7 361.7h1.4M275.8 356.8h1.4M272.0 350.2h1.4M274.2 353.8h1.4M286.4 341.2h1.4M288.3 342.8h1.4M271.7 361.3h1.4M282.8 359.1h1.4M269.9 352.1h1.4M291.3 330.8h1.4M277.0 343.5h1.4M275.3 358.7h1.4M271.2 357.4h1.4M285.4 353.4h1.4M289.1 338.6h1.4M267.8 352.0h1.4M290.6 350.7h1.4M273.0 357.6h1.4M276.7 348.5h1.4M273.4 351.3h1.4M289.3 351.4h1.4M297.9 339.4h1.4M274.0 344.5h1.4M289.7 354.0h1.4M278.1 352.5h1.4M296.2 335.4h1.4M283.0 360.5h1.4M275.7 365.8h1.4M295.1 351.5h1.4M282.5 348.5h1.4M284.4 351.2h1.4M289.4 352.3h1.4M277.2 347.9h1.4M284.2 353.2h1.4M284.9 342.6h1.4M284.4 349.1h1.4M264.8 344.1h1.4M280.5 346.2h1.4M288.6 345.4h1.4M288.4 330.7h1.4M276.8 352.5h1.4M281.7 353.3h1.4M275.5 358.4h1.4M275.4 357.2h1.4M269.5 354.5h1.4M282.0 340.2h1.4M287.6 359.2h1.4M282.5 348.0h1.4M287.7 333.1h1.4M282.4 342.2h1.4M283.9 348.1h1.4M281.7 353.4h1.4M282.8 351.1h1.4M271.0 365.6h1.4M278.7 338.3h1.4M271.4 351.5h1.4M270.3 341.9h1.4M298.2 335.8h1.4M273.5 361.5h1.4M271.2 353.8h1.4M246.5 376.6h1.4M279.6 361.8h1.4M280.7 358.5h1.4M261.5 362.8h1.4M278.6 344.9h1.4M285.3 344.6h1.4M270.5 351.6h1.4M289.0 342.8h1.4M279.6 350.2h1.4M285.0 365.1h1.4M273.1 356.5h1.4M281.5 348.1h1.4M285.5 345.4h1.4M287.7 350.2h1.4M275.2 364.2h1.4M275.9 353.6h1.4M291.3 344.8h1.4M275.4 365.1h1.4M275.6 349.8h1.4M280.2 343.3h1.4M271.3 348.7h1.4M290.5 343.8h1.4M266.8 347.7h1.4M274.0 354.6h1.4M285.2 363.9h1.4M280.2 349.8h1.4M271.1 339.4h1.4M286.7 352.9h1.4M284.5 355.4h1.4M281.8 344.3h1.4M272.6 346.0h1.4M283.7 356.8h1.4M262.7 374.6h1.4M288.4 344.7h1.4M286.6 366.6h1.4M264.3 369.8h1.4M267.1 358.8h1.4M272.0 350.6h1.4M279.7 335.5h1.4M294.8 349.1h1.4M278.0 343.4h1.4M291.8 358.2h1.4M284.9 346.7h1.4M279.8 360.5h1.4M271.5 348.4h1.4M289.3 354.0h1.4M285.3 346.2h1.4M268.0 362.2h1.4M274.3 342.3h1.4M291.6 342.5h1.4M273.3 346.4h1.4M289.2 347.7h1.4M283.9 369.6h1.4M284.3 352.4h1.4M277.7 349.0h1.4M281.2 343.7h1.4M292.2 367.9h1.4M287.0 367.6h1.4M254.9 359.0h1.4M272.9 343.5h1.4M290.8 331.3h1.4M268.7 363.3h1.4M276.4 364.5h1.4M273.3 345.5h1.4M291.9 347.6h1.4M271.4 357.3h1.4M286.0 355.1h1.4M285.7 340.6h1.4M296.6 341.6h1.4M285.9 343.7h1.4M282.3 338.5h1.4M284.0 353.4h1.4M280.6 345.9h1.4M280.0 364.0h1.4M289.0 352.1h1.4M263.1 352.8h1.4M270.5 352.8h1.4M284.6 346.0h1.4M294.9 369.3h1.4M281.7 348.8h1.4M277.4 344.4h1.4M278.0 348.9h1.4M268.1 350.2h1.4M283.6 342.9h1.4M290.5 353.6h1.4M287.6 351.6h1.4M285.6 351.4h1.4M291.8 356.0h1.4M279.4 360.5h1.4M286.1 346.0h1.4M282.1 360.7h1.4M272.3 357.2h1.4M278.4 350.9h1.4M280.5 354.9h1.4M294.5 347.3h1.4M283.6 340.0h1.4M282.4 348.9h1.4M293.7 332.5h1.4M267.4 359.7h1.4M266.8 345.6h1.4M280.8 352.0h1.4M285.4 351.1h1.4M283.6 341.9h1.4M285.7 358.5h1.4M284.2 345.3h1.4M259.6 359.3h1.4M280.1 344.4h1.4M271.7 361.4h1.4M288.6 362.2h1.4M288.0 353.1h1.4M271.4 358.9h1.4M277.3 346.2h1.4M271.4 356.8h1.4M296.5 343.5h1.4M284.8 362.7h1.4M294.6 341.6h1.4M290.7 353.2h1.4M280.5 353.2h1.4M283.3 363.0h1.4M270.2 360.2h1.4M280.7 334.6h1.4M278.8 363.3h1.4M273.1 345.3h1.4M266.0 362.6h1.4M285.2 335.3h1.4M272.4 353.9h1.4M250.7 365.1h1.4M277.4 330.5h1.4M290.4 335.1h1.4M290.3 368.1h1.4M284.0 347.8h1.4M275.3 368.7h1.4M280.6 352.9h1.4M284.4 344.8h1.4M272.4 349.8h1.4M272.4 350.6h1.4M273.8 352.0h1.4M278.7 356.7h1.4M278.6 351.8h1.4M273.0 364.6h1.4M283.5 350.3h1.4M281.7 343.6h1.4M287.9 353.1h1.4M267.9 352.1h1.4M292.9 356.6h1.4M260.0 359.3h1.4M281.3 346.1h1.4M285.4 353.3h1.4M289.3 342.5h1.4M286.1 349.2h1.4M298.8 335.8h1.4M278.2 370.8h1.4M266.6 352.8h1.4M258.0 348.7h1.4M276.6 332.9h1.4M277.9 364.2h1.4M267.3 368.9h1.4M288.0 351.5h1.4M289.6 341.8h1.4M281.8 352.4h1.4M281.6 345.8h1.4M268.7 347.0h1.4M284.7 354.1h1.4M290.9 353.9h1.4M276.9 345.1h1.4M277.8 360.5h1.4M270.9 349.7h1.4M285.7 323.1h1.4M272.3 342.0h1.4M283.4 356.0h1.4M270.5 355.6h1.4M276.6 360.1h1.4M284.0 354.6h1.4M277.9 363.8h1.4M280.9 342.3h1.4M276.5 359.8h1.4M268.0 372.2h1.4M288.3 345.4h1.4M263.4 345.4h1.4M276.9 351.4h1.4M286.2 353.5h1.4M277.5 357.9h1.4M283.4 355.1h1.4M270.3 380.7h1.4M285.2 342.4h1.4M292.0 341.3h1.4M282.3 356.8h1.4M268.5 350.1h1.4M273.7 349.3h1.4M295.0 347.8h1.4M286.9 363.1h1.4M277.1 346.9h1.4M276.0 340.5h1.4M282.3 353.9h1.4M280.9 355.1h1.4M287.9 362.3h1.4M244.6 394.6h1.4M251.2 382.5h1.4M251.9 392.7h1.4M258.0 384.4h1.4M241.7 392.6h1.4M287.2 378.5h1.4M268.9 382.7h1.4M258.6 385.0h1.4M277.2 380.5h1.4M250.8 390.1h1.4M268.7 370.4h1.4M244.5 390.6h1.4M249.4 388.5h1.4M260.0 386.8h1.4M265.6 382.0h1.4M271.2 383.1h1.4M244.4 390.4h1.4M260.3 395.0h1.4M257.2 381.9h1.4M251.2 399.0h1.4M254.7 393.1h1.4M292.0 380.1h1.4M263.5 383.3h1.4M273.2 382.4h1.4M238.9 399.0h1.4M258.4 379.9h1.4M242.1 395.0h1.4M269.0 389.1h1.4M266.9 390.8h1.4M247.8 383.8h1.4M237.7 391.3h1.4M283.1 376.2h1.4M283.4 378.0h1.4M241.9 397.9h1.4M237.9 398.7h1.4M246.6 396.9h1.4M264.6 380.0h1.4M256.9 390.7h1.4M272.1 388.8h1.4M237.8 398.3h1.4M265.9 384.7h1.4M266.6 387.8h1.4M260.6 385.0h1.4M245.0 394.5h1.4M286.0 387.5h1.4M233.3 408.9h1.4M272.4 383.9h1.4M257.3 383.9h1.4M282.4 381.7h1.4M232.7 403.8h1.4M276.1 377.8h1.4M231.3 394.6h1.4M258.4 393.9h1.4M239.8 396.3h1.4M286.0 374.4h1.4M252.6 383.3h1.4M263.8 391.3h1.4M282.8 372.3h1.4M255.7 386.6h1.4M229.3 404.5h1.4M270.1 380.4h1.4M228.6 392.8h1.4M243.5 382.7h1.4M231.0 391.0h1.4M255.4 389.7h1.4M246.6 391.2h1.4M268.8 380.7h1.4M247.0 394.1h1.4M243.1 400.6h1.4M250.9 394.2h1.4M270.3 379.7h1.4M272.1 381.8h1.4M262.5 387.8h1.4M270.8 381.9h1.4M277.0 382.3h1.4M254.7 391.7h1.4M240.1 397.4h1.4M282.1 377.8h1.4M286.4 375.0h1.4M254.1 387.4h1.4M249.2 405.3h1.4M239.9 385.4h1.4M244.5 397.1h1.4M265.2 393.4h1.4M292.3 382.8h1.4M263.7 401.3h1.4M263.0 398.6h1.4M265.1 386.2h1.4M262.7 398.2h1.4M262.5 392.2h1.4M263.8 391.1h1.4M260.2 392.1h1.4M261.2 404.0h1.4M261.2 393.2h1.4M262.6 399.1h1.4M262.4 397.2h1.4M259.8 405.9h1.4" stroke="#000" stroke-width="1.4" fill="none"/>
<text x="0.2" y="522" font-size="49" text-anchor="start" font-weight="bold" >B</text>
<polygon points="17.6,542 10,556.5 25.4,556.5" fill="#000"/>
<line x1="17.7" y1="556" x2="17.7" y2="707.5" stroke="#000" stroke-width="1.4"/>
<text transform="translate(24.8,793.7) rotate(-90)" font-size="20.4">counts</text>
<line x1="17.9" y1="813.3" x2="17.9" y2="980" stroke="#000" stroke-width="1.4"/>
<path d="M45.0 667.2L45.0 642.0L45.8 648.2L46.5 655.0L47.4 652.6L48.2 652.1L49.0 652.0L49.8 651.3L50.6 647.5L51.4 644.7L52.2 646.8L52.7 644.6L53.8 640.9L54.6 639.6L55.4 639.1L56.2 637.8L57.0 633.2L58.0 632.0L58.6 630.1L59.4 626.9L60.2 622.5L61.2 619.0L61.8 619.7L62.6 611.6L63.4 612.8L64.2 611.2L65.0 604.5L65.4 600.0L65.8 603.1L66.6 601.5L67.4 592.2L68.2 581.6L68.6 585.4L69.0 589.1L69.8 581.6L70.6 577.0L71.7 579.0L72.2 573.3L73.0 565.5L73.8 566.3L74.6 569.2L75.4 562.2L76.5 563.0L77.0 552.6L77.6 566.0L78.0 568.5L78.6 575.1L79.4 578.4L80.2 569.0L81.3 569.5L81.8 574.8L82.6 564.4L83.4 570.6L84.4 579.0L85.0 581.3L85.8 585.1L86.5 593.8L87.4 597.8L88.2 603.9L89.0 616.9L89.7 615.0L90.6 622.7L91.4 627.3L91.8 632.0L92.2 633.7L93.0 635.0L93.8 638.7L94.6 640.1L95.0 642.5L95.4 642.7L96.2 644.7L97.0 646.5L97.8 645.9L98.2 648.9L98.6 650.5L99.4 647.8L100.2 647.3L101.0 656.1L101.8 653.4L102.4 657.3L103.4 657.1L104.2 659.7L105.0 661.8L105.8 661.9L106.6 663.7L107.4 664.2L108.0 666.0L108.0 667.2Z" fill="#6c6c6c" stroke="#000" stroke-width="1.1" stroke-linejoin="round"/>
<path d="M45.0 645.0L45.0 645.0L45.8 650.5L46.6 651.5L47.0 657.0L47.4 657.9L48.2 658.0L49.0 656.9L50.0 655.0L50.6 652.2L51.4 654.8L52.2 651.2L53.0 648.3L54.0 650.0L54.6 655.5L55.4 651.9L56.2 654.8L57.0 653.8L58.0 657.0L58.6 655.4L59.4 650.7L60.2 651.7L61.0 654.3L61.8 656.6L62.6 653.5L63.0 654.0L63.4 651.5L64.2 656.7L65.0 654.0L65.8 655.2L66.6 661.8L67.4 656.6L68.0 658.0L69.0 652.2L69.8 658.3L70.6 657.0L71.4 653.5L72.2 655.2L73.0 653.0L73.8 655.7L74.6 645.5L75.4 656.4L76.2 657.2L77.0 656.0L78.0 656.0L78.6 653.0L79.4 651.8L80.2 651.8L81.0 653.8L82.0 652.0L82.6 652.4L83.4 653.4L84.2 644.9L85.0 648.4L85.5 648.9L86.6 642.3L87.4 638.4L88.2 637.5L88.7 636.2L89.8 628.2L90.8 623.5L91.4 621.1L92.2 612.9L92.9 610.8L93.8 608.3L94.6 602.5L95.4 589.6L96.2 578.1L97.1 568.5L97.8 568.3L98.8 547.3L99.4 542.6L100.2 535.1L100.9 528.3L101.8 525.9L102.3 533.0L103.4 520.8L104.5 511.8L105.0 522.1L105.8 527.4L106.6 522.0L107.4 531.3L108.1 547.3L109.0 562.7L109.8 579.0L110.6 584.8L111.4 607.0L111.9 606.5L113.0 616.8L114.0 627.7L114.6 634.6L115.4 639.9L116.2 645.1L116.6 648.9L117.0 648.4L117.8 650.4L118.6 659.4L119.3 659.4L120.2 657.4L121.0 662.8L121.8 664.3L122.5 663.7L123.4 666.9L124.2 664.3L125.0 662.9L125.8 664.9L126.6 666.4L127.4 665.3L128.0 664.5L129.0 661.9L129.8 662.1L130.6 663.7L131.0 662.0L131.4 660.8L132.2 665.1L133.0 664.0L133.8 663.0L134.6 664.0L135.0 665.5" fill="none" stroke="#000" stroke-width="1.1" stroke-linejoin="round"/>
<path d="M44.5 667.2V510.8H192V667.2" fill="none" stroke="#000" stroke-width="1.5"/>
<line x1="43.75" y1="667.2" x2="192.75" y2="667.2" stroke="#000" stroke-width="2.4"/>
<text transform="translate(184.0,539.6) scale(0.95,1.0)" font-size="20.5" text-anchor="end" >PD-L1</text>
<path d="M203.8 666.6L203.8 650.0L204.6 654.8L205.5 662.0L206.2 661.7L207.0 660.3L207.5 661.5L208.6 656.3L209.4 648.3L210.2 646.5L210.7 642.5L211.8 634.1L212.6 629.4L213.4 632.3L213.9 623.5L215.0 610.3L215.8 604.6L216.6 596.1L217.0 600.2L217.4 601.9L218.2 583.2L219.2 583.3L219.8 579.5L220.6 577.1L221.3 564.2L222.2 559.0L223.0 545.6L223.4 551.5L223.8 539.9L224.6 554.9L225.4 545.3L226.2 544.2L226.6 547.3L227.0 553.5L227.8 534.5L228.2 540.0L228.7 526.2L229.2 540.0L229.7 541.0L230.2 540.3L231.0 546.3L231.8 539.4L232.9 543.0L233.4 546.1L234.2 537.8L235.0 557.3L236.0 549.4L236.6 564.7L237.4 562.0L238.2 566.3L239.0 573.9L239.8 582.1L240.3 583.3L241.4 572.8L242.4 574.8L243.0 581.4L243.5 600.2L244.6 614.7L245.6 623.5L246.2 626.9L247.0 632.7L247.8 637.0L248.8 640.4L249.4 643.6L250.2 648.2L251.0 645.6L252.0 651.0L252.6 652.0L253.4 652.1L254.2 650.3L255.0 656.7L255.8 657.9L256.2 657.3L256.6 658.8L257.4 662.5L258.2 659.1L259.0 659.5L259.8 658.9L260.6 660.0L261.5 661.5L262.2 663.1L263.0 662.5L263.8 664.1L264.6 665.0L265.7 664.7L265.7 666.6Z" fill="#6c6c6c" stroke="#000" stroke-width="1.1" stroke-linejoin="round"/>
<path d="M210.7 663.7L210.7 663.7L211.5 662.7L212.3 664.1L213.1 662.5L213.9 657.9L214.7 655.0L215.5 659.4L216.3 656.9L217.0 657.3L217.9 658.2L218.7 656.4L219.5 652.9L220.3 656.1L221.1 652.3L221.9 653.7L222.7 657.0L223.5 655.3L224.3 656.1L225.1 657.6L225.5 653.0L225.9 651.6L226.7 653.5L227.5 653.0L228.3 651.5L229.1 652.9L229.9 647.1L230.7 647.3L231.8 649.0L232.3 648.3L233.1 647.3L233.9 641.3L234.7 641.9L235.5 638.8L236.3 635.4L237.1 636.2L237.9 635.2L238.7 640.4L239.3 642.5L240.3 640.7L241.1 636.1L241.9 632.9L242.4 632.0L243.5 627.6L244.3 619.7L245.1 611.4L245.6 615.0L246.7 604.8L247.5 596.3L248.3 591.1L248.8 593.8L249.9 582.0L250.7 578.9L251.5 573.4L252.0 572.7L253.1 576.4L254.1 560.0L254.7 551.8L255.5 558.3L256.2 536.7L257.1 520.6L257.9 536.4L258.3 526.2L258.7 518.8L259.5 520.6L260.0 513.5L261.0 524.0L261.9 531.2L262.5 530.4L263.5 547.0L264.0 557.9L265.1 573.4L266.1 589.6L266.7 595.5L267.5 606.2L268.2 617.1L269.1 626.7L269.9 629.6L271.0 640.4L271.5 645.2L272.3 643.4L273.1 651.5L274.2 657.3L274.7 659.9L275.5 660.4L276.3 664.2L277.3 663.7L277.9 665.7L278.7 665.0L279.5 664.8L280.3 666.3L281.1 665.7L281.9 664.4L282.7 664.4L283.5 665.5L284.3 664.6L285.0 665.0L285.9 665.6L286.7 665.2L287.5 665.6L288.3 664.9L289.1 664.8L289.9 664.8L290.7 665.0L291.5 665.0L292.3 662.1L292.8 660.5L294.0 665.0" fill="none" stroke="#000" stroke-width="1.1" stroke-linejoin="round"/>
<path d="M203 666.6V509.3H351.2V666.6" fill="none" stroke="#000" stroke-width="1.5"/>
<line x1="202.25" y1="666.6" x2="351.95" y2="666.6" stroke="#000" stroke-width="2.4"/>
<text x="340.6" y="540.2" font-size="20.5" text-anchor="end" >SLAM</text>
<path d="M49.5 838.0L49.5 834.7L50.3 833.7L51.1 831.6L51.9 834.5L52.7 829.6L53.5 834.6L54.3 828.1L55.1 829.2L55.9 829.9L56.9 831.5L57.5 831.2L58.3 833.2L59.1 827.0L59.9 826.1L60.7 827.9L61.5 829.2L62.3 829.4L63.1 830.9L63.9 830.9L64.7 831.2L65.4 827.3L66.3 826.9L67.1 824.3L67.9 825.2L68.7 818.8L69.6 822.0L70.3 818.7L71.1 815.9L71.9 812.9L72.8 811.4L73.5 805.2L74.3 798.3L74.9 794.5L75.9 778.7L76.4 775.4L77.5 756.0L78.1 754.3L79.1 743.5L79.8 728.9L80.7 714.8L81.3 705.6L82.3 714.2L82.7 718.3L83.1 711.5L83.9 714.4L84.4 707.7L85.5 725.5L86.1 739.5L87.1 756.8L88.2 764.8L88.7 770.0L89.5 782.7L90.3 794.5L91.1 803.1L91.9 807.0L92.5 813.5L93.5 818.0L94.3 816.8L95.4 822.0L95.9 826.9L96.7 823.4L97.5 823.3L98.3 821.3L99.1 826.7L99.9 819.7L100.7 826.6L101.3 824.1L102.3 824.9L103.1 822.0L103.9 825.3L104.7 823.0L105.5 826.1L106.3 825.0L107.1 821.6L107.9 827.1L108.7 822.8L109.8 825.1L110.3 829.0L111.1 833.1L111.9 829.0L113.0 832.5L113.5 837.4L114.3 833.3L115.1 835.0L116.2 835.7L116.2 838.0Z" fill="#6c6c6c" stroke="#000" stroke-width="1.1" stroke-linejoin="round"/>
<path d="M45.0 824.0L45.0 824.0L45.8 827.4L46.5 834.0L47.4 832.8L48.2 834.4L49.0 837.5L49.5 834.7L50.6 833.8L51.4 830.2L52.2 830.4L53.0 826.4L53.8 822.0L54.6 817.5L55.4 812.3L56.2 805.8L56.9 800.8L58.0 824.0L58.6 816.8L59.4 807.3L60.1 800.8L61.0 788.8L61.8 780.2L62.2 775.4L62.6 770.2L63.4 767.1L64.3 764.8L65.0 760.3L65.8 759.0L66.4 758.5L67.4 753.5L68.2 746.2L68.6 749.0L69.0 749.8L69.8 761.2L70.3 764.8L71.7 745.8L72.2 755.7L73.0 762.9L73.4 769.0L73.8 775.3L74.6 774.9L75.5 781.8L76.2 787.7L77.0 790.3L78.1 798.7L78.6 799.7L79.4 804.2L80.2 807.9L81.3 811.4L81.8 811.6L82.6 817.7L83.4 817.5L84.2 819.9L85.0 819.6L85.5 822.0L86.6 828.2L87.4 823.0L88.2 823.7L89.0 826.1L89.8 830.2L90.8 828.3L91.4 829.1L92.2 832.9L93.0 832.2L93.8 833.8L94.6 833.3L95.0 833.6L95.4 833.7L96.2 832.8L97.0 832.5L97.8 832.6L98.6 833.5L99.4 832.1L100.2 837.1L101.0 836.2L101.8 832.7L102.6 830.5L103.4 829.8L104.2 832.2L105.0 833.0L105.8 831.5L106.6 833.1L107.4 833.6L108.2 836.0L109.0 835.2L109.8 834.6L110.6 834.8L111.4 834.6L112.2 833.3L113.0 835.5L114.0 835.0L114.6 837.3L115.4 835.9L116.2 835.2L117.0 834.3L117.8 835.2L118.6 834.9L119.4 834.9L120.2 835.8L121.0 836.0L121.8 834.7L122.6 834.8L123.5 836.0L124.2 833.8L124.6 831.5L125.0 832.7L125.7 836.0L126.6 837.3L127.4 836.8L128.2 837.4L129.0 836.7L129.8 837.6L130.3 836.0L131.4 831.5L132.5 836.0" fill="none" stroke="#000" stroke-width="1.1" stroke-linejoin="round"/>
<path d="M44.5 838V681H192V838" fill="none" stroke="#000" stroke-width="1.5"/>
<line x1="43.75" y1="838" x2="192.75" y2="838" stroke="#000" stroke-width="2.4"/>
<text x="186" y="715.3" font-size="20.5" text-anchor="end" >CD45RO</text>
<path d="M208.6 838.2L208.6 833.6L209.4 832.5L210.2 828.9L211.0 836.0L211.8 827.0L212.8 826.2L213.4 825.6L214.2 825.1L215.0 822.6L216.0 815.6L216.6 812.6L217.4 807.5L218.2 803.2L219.2 800.8L219.8 798.8L220.6 787.6L221.3 788.0L222.2 785.3L223.0 775.4L223.8 758.5L224.6 753.5L225.5 745.8L226.2 741.4L227.2 731.0L227.8 713.0L228.4 730.0L229.1 735.2L230.2 734.7L230.8 733.0L231.8 738.1L232.9 743.7L233.4 739.5L234.4 741.6L235.0 755.2L235.7 767.0L236.6 773.0L237.4 791.3L237.8 794.5L238.2 802.0L239.0 807.0L239.9 813.5L240.6 816.3L241.4 820.4L242.4 824.0L243.0 829.3L243.8 823.4L244.6 826.2L245.6 828.3L246.2 828.4L247.0 824.2L247.8 827.2L248.6 831.3L249.4 828.4L250.2 830.0L251.0 831.5L251.8 826.8L252.6 837.8L253.4 830.0L254.2 831.4L255.0 830.0L255.8 833.5L256.6 827.1L257.4 826.0L258.2 830.4L259.0 829.7L259.8 829.3L260.6 830.0L261.4 829.8L262.0 828.0L263.0 824.7L263.8 827.5L264.6 830.8L265.4 830.9L266.2 830.2L267.0 831.0L267.8 827.0L268.6 827.6L269.4 831.4L270.0 831.0L271.0 832.9L271.8 837.2L272.5 836.5L272.5 838.2Z" fill="#6c6c6c" stroke="#000" stroke-width="1.1" stroke-linejoin="round"/>
<path d="M203.5 826.0L203.5 826.0L204.3 825.7L205.0 834.0L205.9 828.7L206.5 824.0L207.5 815.5L208.6 803.0L209.1 797.8L209.9 788.6L210.7 777.5L211.5 767.3L212.3 760.5L212.8 756.4L213.9 738.5L214.9 731.0L215.5 726.2L216.6 712.0L217.1 713.7L218.1 703.5L218.7 717.4L219.2 724.7L220.3 744.2L220.8 748.0L221.9 759.6L223.0 769.0L223.5 773.1L224.3 778.7L225.0 786.0L225.9 792.2L226.7 798.1L227.6 803.0L228.3 807.3L229.1 808.2L230.2 815.6L230.7 814.5L231.5 820.8L232.3 819.9L233.1 822.7L234.0 824.0L234.7 823.0L235.5 824.9L236.3 824.3L237.1 828.0L237.9 825.9L238.7 827.3L239.5 827.5L240.3 828.3L241.1 834.7L241.9 828.5L242.7 828.9L243.5 829.6L244.3 831.2L245.1 833.7L245.9 827.5L246.7 826.1L247.5 833.8L248.3 828.2L249.1 829.5L249.9 830.9L250.7 833.4L251.5 831.2L252.3 828.1L253.1 828.7L253.9 827.6L255.0 832.0L255.5 832.3L256.3 826.8L257.1 829.7L257.9 830.5L258.7 833.6L259.5 831.4L260.3 835.5L261.1 831.6L261.9 834.8L262.7 831.6L263.5 833.4L264.3 830.9L265.1 831.4L265.9 828.4L266.7 832.1L267.5 836.2L268.3 835.5L269.1 836.2L270.0 834.0L270.7 832.4L271.5 833.7L272.3 835.9L273.1 835.6L273.9 835.4L274.7 836.6L275.5 836.1L276.3 834.9L277.1 833.4L277.9 834.5L278.7 837.8L279.5 835.6L280.3 836.2L281.1 835.8L281.9 834.7L282.7 837.9L283.5 836.5L284.3 831.5L284.7 831.5L285.1 827.5L286.0 836.5L286.7 836.1L287.5 837.1L288.3 836.3L289.1 835.8L289.9 836.4L290.7 836.0L291.5 836.5L292.3 837.4L293.1 837.3L293.9 836.7L294.7 836.6L295.5 835.9L296.3 837.5L297.1 836.5L297.8 836.5L299.0 831.5L299.5 833.6L300.2 836.5" fill="none" stroke="#000" stroke-width="1.1" stroke-linejoin="round"/>
<path d="M202.8 838.2V680.6H349.8V838.2" fill="none" stroke="#000" stroke-width="1.5"/>
<line x1="202.05" y1="838.2" x2="350.55" y2="838.2" stroke="#000" stroke-width="2.4"/>
<text x="340.5" y="714.6" font-size="20.5" text-anchor="end" >CD45RB</text>
<path d="M61.2 1010.2L61.2 1007.7L62.0 1007.9L62.8 1005.3L63.6 1004.6L64.4 1005.5L65.2 1001.7L66.0 1003.7L66.8 1004.3L67.5 1002.4L68.4 1001.7L69.2 998.8L70.0 999.5L70.7 996.0L71.6 990.9L72.4 987.8L72.8 983.4L73.2 979.3L74.0 968.5L74.9 962.2L75.6 952.6L76.4 942.7L77.0 932.6L78.0 919.9L79.1 903.0L79.6 899.6L80.4 890.9L81.3 883.0L82.0 890.3L82.8 897.6L83.4 903.0L84.4 920.5L85.5 932.6L86.0 939.2L86.8 950.1L87.6 962.2L88.4 972.6L89.2 982.5L89.7 987.6L90.8 995.3L91.8 1002.4L92.4 1002.8L93.2 1001.7L94.0 1004.5L95.0 1005.6L95.6 1006.3L96.4 1006.8L97.2 1007.0L98.0 1006.3L98.8 1006.1L99.6 1007.3L100.4 1007.1L101.3 1007.7L101.3 1010.2Z" fill="#6c6c6c" stroke="#000" stroke-width="1.1" stroke-linejoin="round"/>
<path d="M45.3 1006.7L45.3 1006.7L46.1 1005.3L46.9 1004.3L47.7 1006.2L48.5 1003.6L49.5 1004.5L50.1 999.3L50.9 991.0L51.6 985.5L52.5 974.0L53.3 966.7L53.8 958.0L54.9 940.7L55.9 928.4L56.5 919.4L57.3 913.2L58.0 903.0L58.9 898.2L59.7 891.4L60.5 900.0L61.2 909.3L62.1 922.1L62.8 932.6L63.7 942.0L64.3 947.4L65.3 958.8L65.8 962.2L66.9 973.5L67.5 979.2L68.5 985.8L69.6 991.9L70.1 994.8L70.9 995.3L71.7 995.3L72.8 1000.3L73.3 1002.0L74.1 1001.9L74.9 1005.0L75.7 1005.8L76.5 1004.5L77.0 1005.6L78.1 1004.5L78.9 1004.1L79.7 1006.5L80.5 1004.9L81.3 1005.8L82.1 1004.8L82.9 1006.2L83.7 1005.3L84.5 1006.3L85.3 1004.6L86.1 1005.1L86.9 1006.1L87.7 1005.0L88.5 1006.0L89.3 1006.4L90.0 1006.5L90.9 1007.3L91.7 1006.3L92.5 1005.6L93.3 1007.3L94.1 1006.8L94.9 1007.4L95.7 1007.1L96.5 1007.3L97.3 1006.3L98.1 1008.6L98.9 1006.9L99.7 1007.2L100.5 1007.9L101.0 1007.5" fill="none" stroke="#000" stroke-width="1.1" stroke-linejoin="round"/>
<path d="M44.5 1010.2V853H192V1010.2" fill="none" stroke="#000" stroke-width="1.5"/>
<line x1="43.75" y1="1010.2" x2="192.75" y2="1010.2" stroke="#000" stroke-width="2.4"/>
<text x="185.3" y="885.8" font-size="20.5" text-anchor="end" >ILT-4</text>
<path d="M220.5 1012.2L220.5 1009.2L221.3 1007.1L222.1 1008.4L222.9 1006.6L223.7 1005.8L224.5 1005.8L225.5 1004.2L226.1 1006.9L226.9 1003.3L227.7 998.3L228.5 1005.2L229.3 1007.1L230.1 1003.9L230.5 1005.5L230.9 1003.8L231.7 999.4L232.5 1004.6L233.3 1000.3L234.1 1002.0L234.9 995.0L235.5 998.0L236.5 999.2L237.3 993.3L238.1 995.3L239.2 990.5L239.7 990.0L240.5 988.1L241.3 989.5L242.1 984.9L242.9 987.6L243.7 982.9L244.2 983.0L245.3 982.8L246.1 981.3L246.9 979.1L248.0 978.0L248.5 978.1L249.3 973.0L250.1 970.0L251.0 968.0L251.7 963.2L252.5 962.4L253.5 955.5L254.1 947.8L254.9 946.2L256.0 943.0L256.5 939.4L257.5 931.7L258.1 935.8L259.2 940.5L259.7 941.4L260.5 933.5L261.3 929.7L261.7 933.0L262.1 927.4L262.9 928.4L263.7 921.6L264.2 920.5L265.3 921.4L266.1 914.4L266.7 905.5L267.7 907.2L268.5 920.5L269.3 912.5L270.1 923.9L270.9 927.1L271.7 930.5L272.5 925.0L273.3 937.4L274.2 940.5L274.9 943.7L275.7 948.1L276.7 950.5L277.3 957.3L278.1 953.8L279.2 960.5L279.7 964.4L280.5 968.3L281.3 969.8L281.7 970.5L282.1 972.0L282.9 973.4L283.7 973.8L284.5 975.6L285.5 980.5L286.1 980.4L286.9 985.0L287.7 987.7L288.5 988.5L289.2 990.5L290.1 991.7L290.9 990.4L291.7 994.3L292.5 994.1L293.3 997.9L294.2 998.0L294.9 999.9L295.7 1000.3L296.5 1002.6L297.3 1006.5L298.0 1004.2L298.9 1006.0L299.7 1006.4L300.5 1006.3L301.3 1003.5L302.1 1009.4L303.0 1009.2L303.7 1009.2L304.5 1008.7L305.3 1006.8L306.1 1010.6L306.9 1008.2L307.7 1010.4L308.5 1010.4L309.3 1010.5L310.1 1010.6L310.5 1010.5L310.5 1012.2Z" fill="#6c6c6c" stroke="#000" stroke-width="1.1" stroke-linejoin="round"/>
<path d="M209.2 1010.0L209.2 1010.0L210.0 1010.1L210.8 1010.8L211.6 1009.7L212.4 1007.4L213.2 1009.0L214.0 1008.5L214.8 1008.9L215.5 1008.0L216.4 1008.1L217.2 1006.1L218.0 1004.1L218.8 1008.0L219.6 1005.4L220.5 1004.2L221.2 1004.0L222.0 1001.5L222.8 1001.9L223.6 1000.0L224.4 1001.9L225.5 998.0L226.0 996.9L226.8 997.4L227.6 998.6L228.4 1003.3L229.2 1003.0L230.0 1000.2L230.8 991.9L231.7 988.0L232.4 985.8L233.2 979.1L234.2 973.0L234.8 968.4L235.6 961.3L236.7 953.0L237.2 943.0L238.0 943.0L238.8 933.3L239.2 933.0L239.6 930.9L240.4 918.0L241.2 924.6L241.7 923.0L242.8 918.7L243.6 907.2L244.2 908.0L245.2 898.3L246.0 909.6L246.8 893.6L247.2 892.5L247.6 898.5L248.4 912.6L249.2 908.0L250.0 916.0L250.5 923.0L251.7 915.5L252.4 916.6L253.5 933.0L254.0 933.8L254.8 937.7L255.6 940.9L256.0 948.0L256.4 956.5L257.2 956.2L258.0 958.0L258.8 958.8L259.6 969.0L260.5 973.0L261.2 975.0L262.0 981.1L263.0 985.5L263.6 986.8L264.4 987.9L265.2 992.1L266.0 996.8L266.7 995.5L267.6 999.5L268.4 997.2L269.2 1004.5L270.0 1002.6L270.5 1003.0L271.6 1007.7L272.4 1006.6L273.2 1005.7L274.2 1008.0L274.8 1006.2L275.6 1007.1L276.4 1005.7L277.2 1009.5L278.0 1005.5L278.8 1005.1L279.6 1007.4L280.4 1004.0L281.2 1007.2L282.0 1006.8L282.8 1009.7L283.6 1006.3L284.2 1006.7L285.2 1010.5L286.0 1008.6L286.8 1008.1L287.6 1009.4L288.0 1010.0" fill="none" stroke="#000" stroke-width="1.1" stroke-linejoin="round"/>
<path d="M201.8 1012.2V852.6H351.2V1012.2" fill="none" stroke="#000" stroke-width="1.5"/>
<line x1="201.05" y1="1012.2" x2="351.95" y2="1012.2" stroke="#000" stroke-width="2.4"/>
<text x="340.5" y="883.2" font-size="20.5" text-anchor="end" >ILT-3</text>
<polygon points="44.5,641 44.5,664 47.7,664 45.7,647" fill="#000"/>
<polygon points="203,649 203,664 206.2,664 204.2,655" fill="#000"/>
<polygon points="44.5,823 44.5,836 47.7,836 45.7,829" fill="#000"/>
<polygon points="202.8,825 202.8,836 206.0,836 204.0,831" fill="#000"/>
<rect x="373" y="522" width="20.80" height="23.30" fill="#858585" stroke="#000" stroke-width="1.5"/>
<rect x="373" y="559.8" width="20.80" height="23.80" fill="#fff" stroke="#000" stroke-width="1.5"/>
<text x="399" y="538.7" font-size="20.2" text-anchor="start" >immature DC</text>
<text x="399" y="577" font-size="20.2" text-anchor="start" >mature DC</text>
<line x1="74.6" y1="1030" x2="126.5" y2="1030" stroke="#000" stroke-width="1.4"/>
<text x="138.5" y="1035.2" font-size="20.5" text-anchor="start" >fluorescence</text>
<line x1="265" y1="1030" x2="306" y2="1030" stroke="#000" stroke-width="1.4"/>
<polygon points="319.5,1030 305.3,1022.2 305.3,1037.8" fill="#000"/>
</svg>
</body></html>
